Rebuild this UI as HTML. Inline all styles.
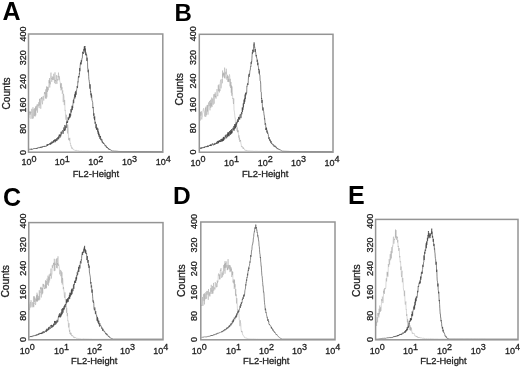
<!DOCTYPE html><html><head><meta charset="utf-8"><style>html,body{margin:0;padding:0;background:#fff;width:520px;height:368px;overflow:hidden}svg{display:block;will-change:transform}</style></head><body>
<svg width="520" height="368" viewBox="0 0 520 368" font-family='"Liberation Sans", sans-serif'>
<rect width="520" height="368" fill="#fff"/>
<path d="M28.50,111.17 L28.75,118.09 L29.00,116.50 L29.25,111.65 L29.50,112.53 L29.75,111.77 L30.00,114.84 L30.25,111.25 L30.50,113.40 L30.75,112.05 L31.00,118.91 L31.25,113.19 L31.50,112.88 L31.75,108.82 L32.00,112.83 L32.25,117.52 L32.50,118.69 L32.75,109.84 L33.00,107.19 L33.25,118.46 L33.50,115.93 L33.75,112.24 L34.00,108.97 L34.25,115.14 L34.50,116.09 L34.75,108.02 L35.00,116.60 L35.25,116.36 L35.50,106.58 L35.75,115.40 L36.00,107.16 L36.25,105.88 L36.50,110.32 L36.75,110.39 L37.00,104.47 L37.25,108.91 L37.50,112.68 L37.75,104.59 L38.00,104.11 L38.25,106.25 L38.50,102.28 L38.75,102.75 L39.00,107.06 L39.25,108.14 L39.50,99.00 L39.75,105.47 L40.00,99.41 L40.25,98.17 L40.50,101.62 L40.75,108.77 L41.00,103.51 L41.25,102.05 L41.50,96.97 L41.75,99.16 L42.00,97.36 L42.25,101.92 L42.50,104.26 L42.75,99.97 L43.00,96.81 L43.25,96.03 L43.50,98.28 L43.75,100.55 L44.00,97.79 L44.25,95.39 L44.50,91.96 L44.75,94.00 L45.00,92.29 L45.25,96.39 L45.50,98.33 L45.75,89.32 L46.00,98.93 L46.25,98.69 L46.50,86.46 L46.75,97.49 L47.00,96.49 L47.25,86.73 L47.50,91.95 L47.75,87.24 L48.00,86.93 L48.25,90.34 L48.50,88.32 L48.75,84.68 L49.00,80.08 L49.25,83.04 L49.50,78.09 L49.75,87.51 L50.00,81.45 L50.25,84.41 L50.50,78.88 L50.75,76.85 L51.00,72.60 L51.00,77.40 L51.25,78.53 L51.50,78.10 L51.75,81.85 L52.00,76.34 L52.25,77.40 L52.50,79.47 L52.75,79.92 L53.00,76.77 L53.25,80.03 L53.50,75.14 L53.75,73.75 L54.00,77.02 L54.25,79.96 L54.50,83.16 L54.75,82.35 L55.00,72.30 L55.00,79.78 L55.25,81.13 L55.50,79.98 L55.75,84.07 L56.00,82.47 L56.25,80.50 L56.50,75.14 L56.75,81.79 L57.00,83.85 L57.25,79.15 L57.50,79.20 L57.75,80.56 L58.00,75.74 L58.25,77.34 L58.50,72.60 L58.50,73.67 L58.75,75.16 L59.00,80.02 L59.25,76.28 L59.50,77.19 L59.75,81.33 L60.00,81.48 L60.25,82.53 L60.50,87.73 L60.75,83.29 L61.00,90.43 L61.25,83.83 L61.50,83.35 L61.75,89.61 L62.00,87.09 L62.25,93.71 L62.50,92.24 L62.75,90.34 L63.00,94.74 L63.25,102.14 L63.50,93.84 L63.75,95.51 L64.00,95.77 L64.25,105.14 L64.50,99.97 L64.75,100.02 L65.00,110.50 L65.25,109.95 L65.50,114.91 L65.75,118.62 L66.00,119.82 L66.25,114.73 L66.50,115.07 L66.75,128.14 L67.00,127.85 L67.25,124.49 L67.50,133.46 L67.75,124.51 L68.00,126.89 L68.25,128.24 L68.50,139.10 L68.75,140.01 L69.00,138.00 L69.25,140.72 L69.50,140.41 L69.75,137.80 L70.00,141.59 L70.25,143.36 L70.50,143.01 L70.75,146.17 L71.00,145.48 L71.25,145.71 L71.50,147.74 L71.75,148.57 L72.00,147.37 L72.25,147.93 L72.50,148.72 L72.75,148.42 L73.00,149.33 L73.25,149.50 L73.50,149.90 L73.75,149.84 L74.00,150.07 L74.25,149.98 L74.50,150.09 L74.75,150.36 L75.00,150.47 L75.25,150.49 L75.50,150.34 L75.75,150.73 L76.00,150.77 L76.25,150.36 L76.50,150.42 L76.75,150.46 L77.00,150.67 L77.25,150.97 L77.50,150.68 L77.75,150.93 L78.00,151.02 L78.25,150.98 L78.50,150.85 L78.75,150.89 L79.00,150.96 L79.25,151.15 L79.50,151.19 L79.75,151.09 L80.00,151.15 L80.25,151.10 L80.50,151.26 L80.75,151.28 L81.00,151.23 L81.25,151.16 L81.50,151.15 L81.75,151.24 L82.00,151.19 L82.25,151.34 L82.50,151.25 L82.75,151.25 L83.00,151.17 L83.25,151.24 L83.50,151.22 L83.75,151.30 L84.00,151.30 L84.25,151.35 L84.50,151.23 L84.75,151.34 L85.00,151.34 L85.25,151.26 L85.50,151.27 L85.75,151.38 L86.00,151.31 L86.25,151.38 L86.50,151.27 L86.75,151.39 L87.00,151.37 L87.25,151.30 L87.50,151.34 L87.75,151.34 L88.00,151.41 L88.25,151.37 L88.50,151.40 L88.75,151.33 L89.00,151.44 L89.25,151.38 L89.50,151.37 L89.75,151.42 L90.00,151.45 L90.25,151.37 L90.50,151.40 L90.75,151.43 L91.00,151.44 L91.25,151.46 L91.50,151.44 L91.75,151.47 L92.00,151.40 L92.25,151.43 L92.50,151.49 L92.75,151.41 L93.00,151.48 L93.25,151.49 L93.50,151.46 L93.75,151.48 L94.00,151.45 L94.25,151.45 L94.50,151.47 L94.75,151.51 L95.00,151.51 L95.25,151.52 L95.50,151.48 L95.75,151.51 L96.00,151.52 L96.25,151.48 L96.50,151.52 L96.75,151.49 L97.00,151.53 L97.25,151.50 L97.50,151.49 L97.75,151.52 L98.00,151.49 L98.25,151.52 L98.50,151.50 L98.75,151.52 L99.00,151.49 L99.25,151.53 L99.50,151.49 L99.75,151.53 L100.00,151.53 L100.25,151.50 L100.50,151.49 L100.75,151.53 L101.00,151.50 L101.25,151.52 L101.50,151.50 L101.75,151.50 L102.00,151.53 L102.25,151.53 L102.50,151.49 L102.75,151.49 L103.00,151.50 L103.25,151.53 L103.50,151.51 L103.75,151.51 L104.00,151.52 L104.25,151.54 L104.50,151.52 L104.75,151.52 L105.00,151.50 L105.25,151.51 L105.50,151.54 L105.75,151.53 L106.00,151.51 L106.25,151.50 L106.50,151.54 L106.75,151.53 L107.00,151.50 L107.25,151.54 L107.50,151.52 L107.75,151.54 L108.00,151.53 L108.25,151.54 L108.50,151.53 L108.75,151.52 L109.00,151.52 L109.25,151.53 L109.50,151.52 L109.75,151.51 L110.00,151.52 L110.25,151.50 L110.50,151.53 L110.75,151.53 L111.00,151.54 L111.25,151.52 L111.50,151.54 L111.75,151.53 L112.00,151.54 L112.25,151.54 L112.50,151.52 L112.75,151.54 L113.00,151.54 L113.25,151.53 L113.50,151.54 L113.75,151.53 L114.00,151.52 L114.25,151.52 L114.50,151.52 L114.75,151.51 L115.00,151.53 L115.25,151.54 L115.50,151.55 L115.75,151.53 L116.00,151.54 L116.25,151.51 L116.50,151.52 L116.75,151.54 L117.00,151.55 L117.25,151.53 L117.50,151.54 L117.75,151.55 L118.00,151.54 L118.25,151.53 L118.50,151.53 L118.75,151.54 L119.00,151.53 L119.25,151.53 L119.50,151.52 L119.75,151.52 L120.00,151.54 L120.25,151.55 L120.50,151.54 L120.75,151.52 L121.00,151.52 L121.25,151.54 L121.50,151.55 L121.75,151.53 L122.00,151.53 L122.25,151.54 L122.50,151.55 L122.75,151.54 L123.00,151.54 L123.25,151.54 L123.50,151.56 L123.75,151.53 L124.00,151.54 L124.25,151.55 L124.50,151.55 L124.75,151.55 L125.00,151.54 L125.25,151.55 L125.50,151.54 L125.75,151.55 L126.00,151.55 L126.25,151.54 L126.50,151.53 L126.75,151.53 L127.00,151.55 L127.25,151.54 L127.50,151.56 L127.75,151.54 L128.00,151.54 L128.25,151.55 L128.50,151.56 L128.75,151.55 L129.00,151.55 L129.25,151.55 L129.50,151.54 L129.75,151.55 L130.00,151.56 L130.25,151.55 L130.50,151.56 L130.75,151.56 L131.00,151.55 L131.25,151.54 L131.50,151.56 L131.75,151.54 L132.00,151.55 L132.25,151.55 L132.50,151.56 L132.75,151.55 L133.00,151.57 L133.25,151.57 L133.50,151.55 L133.75,151.56 L134.00,151.57 L134.25,151.57 L134.50,151.57 L134.75,151.56 L135.00,151.57 L135.25,151.56 L135.50,151.55 L135.75,151.56 L136.00,151.56 L136.25,151.56 L136.50,151.55 L136.75,151.55 L137.00,151.57 L137.25,151.57 L137.50,151.56 L137.75,151.56 L138.00,151.55 L138.25,151.57 L138.50,151.57 L138.75,151.56 L139.00,151.56 L139.25,151.56 L139.50,151.56 L139.75,151.57 L140.00,151.57 L140.25,151.56 L140.50,151.57 L140.75,151.57 L141.00,151.57 L141.25,151.56 L141.50,151.57 L141.75,151.57 L142.00,151.57 L142.25,151.57 L142.50,151.58 L142.75,151.57 L143.00,151.56 L143.25,151.57 L143.50,151.57 L143.75,151.58 L144.00,151.57 L144.25,151.58 L144.50,151.58 L144.75,151.57 L145.00,151.57 L145.25,151.58 L145.50,151.57 L145.75,151.58 L146.00,151.57 L146.25,151.58 L146.50,151.58 L146.75,151.58 L147.00,151.58 L147.25,151.57 L147.50,151.58 L147.75,151.57 L148.00,151.58 L148.25,151.58 L148.50,151.57 L148.75,151.58 L149.00,151.58 L149.25,151.58 L149.50,151.58 L149.75,151.58 L150.00,151.58 L150.25,151.58 L150.50,151.59 L150.75,151.59 L151.00,151.58 L151.25,151.58 L151.50,151.59 L151.75,151.58 L152.00,151.58 L152.25,151.58 L152.50,151.58 L152.75,151.58 L153.00,151.58 L153.25,151.58 L153.50,151.59 L153.75,151.59 L154.00,151.59 L154.25,151.58 L154.50,151.59 L154.75,151.59 L155.00,151.59 L155.25,151.59 L155.50,151.59 L155.75,151.59 L156.00,151.59 L156.25,151.59 L156.50,151.59 L156.75,151.59 L157.00,151.59 L157.25,151.59 L157.50,151.59 L157.75,151.59 L158.00,151.59 L158.25,151.59 L158.50,151.59 L158.75,151.59 L159.00,151.59 L159.25,151.60 L159.50,151.59 L159.75,151.60 L160.00,151.60 L160.25,151.60 L160.50,151.60 L160.75,151.60 L161.00,151.60 L161.25,151.60 L161.50,151.60 L161.75,151.60 L162.00,151.60 L162.25,151.60 L162.50,151.60 L162.75,151.60" fill="none" stroke="#a0a0a0" stroke-width="0.42" stroke-linejoin="round"/>
<path d="M28.50,149.70 L28.70,149.55 L28.90,149.41 L29.10,149.42 L29.30,149.31 L29.50,149.44 L29.70,149.18 L29.90,149.17 L30.10,149.32 L30.30,149.16 L30.50,149.04 L30.70,149.49 L30.90,149.35 L31.10,149.50 L31.30,148.89 L31.50,149.49 L31.70,148.78 L31.90,148.97 L32.10,149.19 L32.30,149.18 L32.50,148.94 L32.70,149.30 L32.90,149.30 L33.10,149.08 L33.30,148.77 L33.50,148.70 L33.70,148.97 L33.90,148.63 L34.10,148.55 L34.30,148.96 L34.50,148.54 L34.70,148.58 L34.90,148.54 L35.10,148.49 L35.30,148.56 L35.50,148.22 L35.70,148.71 L35.90,148.92 L36.10,148.56 L36.30,148.07 L36.50,148.73 L36.70,148.32 L36.90,148.37 L37.10,148.68 L37.30,147.68 L37.50,147.81 L37.70,148.31 L37.90,148.25 L38.10,147.88 L38.30,147.79 L38.50,147.68 L38.70,147.53 L38.90,147.21 L39.10,147.19 L39.30,148.09 L39.50,147.99 L39.70,147.73 L39.90,147.52 L40.10,147.07 L40.30,147.71 L40.50,147.29 L40.70,146.80 L40.90,147.76 L41.10,147.89 L41.30,146.96 L41.50,146.77 L41.70,147.20 L41.90,147.21 L42.10,147.53 L42.30,146.74 L42.50,147.14 L42.70,146.28 L42.90,146.63 L43.10,146.54 L43.30,146.54 L43.50,146.38 L43.70,146.81 L43.90,146.51 L44.10,146.01 L44.30,146.44 L44.50,145.95 L44.70,146.60 L44.90,146.74 L45.10,145.92 L45.30,146.13 L45.50,146.33 L45.70,146.28 L45.90,146.22 L46.10,146.01 L46.30,146.38 L46.50,144.87 L46.70,144.69 L46.90,144.76 L47.10,144.98 L47.30,145.35 L47.50,146.00 L47.70,144.02 L47.90,145.34 L48.10,144.05 L48.30,144.30 L48.50,144.37 L48.70,144.36 L48.90,144.29 L49.10,144.88 L49.30,144.06 L49.50,143.79 L49.70,143.16 L49.90,143.60 L50.10,144.56 L50.30,143.68 L50.50,144.34 L50.70,142.69 L50.90,144.24 L51.10,142.73 L51.30,143.65 L51.50,142.88 L51.70,142.68 L51.90,141.57 L52.10,143.48 L52.30,141.89 L52.50,142.60 L52.70,142.15 L52.90,142.41 L53.10,141.38 L53.30,141.91 L53.50,140.40 L53.70,142.73 L53.90,142.15 L54.10,140.35 L54.30,140.59 L54.50,139.60 L54.70,141.24 L54.90,139.92 L55.10,141.10 L55.30,142.18 L55.50,139.42 L55.70,139.17 L55.90,141.20 L56.10,139.97 L56.30,139.76 L56.50,140.58 L56.70,138.24 L56.90,138.91 L57.10,140.58 L57.30,139.19 L57.50,137.46 L57.70,138.06 L57.90,139.24 L58.10,138.92 L58.30,137.87 L58.50,136.56 L58.70,139.25 L58.90,135.78 L59.10,134.83 L59.30,134.59 L59.50,135.99 L59.70,134.90 L59.90,137.78 L60.10,134.59 L60.30,134.99 L60.50,134.74 L60.70,136.45 L60.90,135.75 L61.10,131.80 L61.30,134.36 L61.50,134.03 L61.70,133.50 L61.90,131.79 L62.10,131.08 L62.30,131.11 L62.50,130.36 L62.70,131.22 L62.90,132.91 L63.10,133.87 L63.30,131.85 L63.50,132.02 L63.70,128.60 L63.90,127.45 L64.10,130.01 L64.30,130.68 L64.50,129.30 L64.70,130.81 L64.90,124.98 L65.10,130.29 L65.30,129.33 L65.50,129.25 L65.70,126.22 L65.90,126.41 L66.10,127.77 L66.30,127.48 L66.50,122.39 L66.70,121.75 L66.90,122.96 L67.10,120.75 L67.30,121.01 L67.50,123.06 L67.70,121.78 L67.90,119.74 L68.10,117.33 L68.30,117.69 L68.50,120.01 L68.70,118.23 L68.90,119.14 L69.10,116.76 L69.30,117.93 L69.50,113.64 L69.70,117.62 L69.90,113.92 L70.10,117.31 L70.30,114.11 L70.50,113.75 L70.70,115.63 L70.90,109.32 L71.10,109.24 L71.30,112.46 L71.50,108.98 L71.70,109.06 L71.90,107.15 L72.10,105.73 L72.30,110.10 L72.50,106.30 L72.70,107.95 L72.90,104.23 L73.10,103.18 L73.30,100.06 L73.50,99.67 L73.70,103.17 L73.90,98.89 L74.10,99.04 L74.30,97.23 L74.50,96.65 L74.70,94.34 L74.90,98.41 L75.10,96.04 L75.30,92.29 L75.50,96.97 L75.70,91.43 L75.90,90.87 L76.10,94.77 L76.30,91.47 L76.50,91.25 L76.70,89.54 L76.90,88.64 L77.10,86.02 L77.30,86.54 L77.50,88.02 L77.70,84.72 L77.90,81.63 L78.10,82.21 L78.30,77.88 L78.50,76.08 L78.70,77.62 L78.90,76.60 L79.10,77.12 L79.30,73.45 L79.50,74.25 L79.70,68.10 L79.90,71.22 L80.10,66.82 L80.30,64.40 L80.50,63.09 L80.70,64.36 L80.90,61.89 L81.10,64.30 L81.30,60.17 L81.50,61.83 L81.70,61.11 L81.90,58.57 L82.10,58.55 L82.30,58.09 L82.50,54.96 L82.70,51.75 L82.90,53.21 L83.10,52.31 L83.30,53.93 L83.50,53.69 L83.70,52.67 L83.90,48.93 L84.10,51.25 L84.30,46.54 L84.50,49.97 L84.70,46.16 L84.90,46.90 L85.00,46.30 L85.10,52.54 L85.30,48.47 L85.50,50.67 L85.70,54.90 L85.90,52.52 L86.10,55.52 L86.30,54.31 L86.50,54.81 L86.70,54.74 L86.90,60.97 L87.10,57.66 L87.30,60.15 L87.50,62.24 L87.70,68.36 L87.90,68.24 L88.10,72.27 L88.30,69.69 L88.50,71.95 L88.70,76.37 L88.90,79.55 L89.10,79.86 L89.30,81.74 L89.50,83.18 L89.70,87.13 L89.90,88.68 L90.10,84.27 L90.30,86.17 L90.50,92.15 L90.70,91.39 L90.90,95.23 L91.10,93.25 L91.30,97.60 L91.50,94.60 L91.70,95.15 L91.90,100.01 L92.10,100.43 L92.30,101.07 L92.50,102.04 L92.70,102.47 L92.90,108.11 L93.10,106.97 L93.30,107.86 L93.50,112.00 L93.70,115.71 L93.90,113.32 L94.10,118.37 L94.30,117.27 L94.50,120.14 L94.70,116.35 L94.90,120.80 L95.10,123.75 L95.30,121.85 L95.50,123.28 L95.70,123.56 L95.90,128.18 L96.10,126.98 L96.30,124.20 L96.50,129.80 L96.70,127.88 L96.90,129.12 L97.10,127.58 L97.30,127.85 L97.50,130.14 L97.70,131.73 L97.90,128.60 L98.10,133.76 L98.30,131.29 L98.50,135.16 L98.70,132.45 L98.90,133.12 L99.10,136.83 L99.30,134.68 L99.50,134.33 L99.70,135.70 L99.90,138.85 L100.10,136.21 L100.30,137.29 L100.50,136.16 L100.70,140.14 L100.90,139.41 L101.10,138.71 L101.30,139.10 L101.50,139.33 L101.70,140.56 L101.90,139.47 L102.10,142.24 L102.30,141.34 L102.50,142.59 L102.70,142.02 L102.90,142.71 L103.10,143.26 L103.30,143.62 L103.50,142.67 L103.70,143.80 L103.90,143.51 L104.10,143.51 L104.30,144.24 L104.50,144.36 L104.70,144.24 L104.90,145.12 L105.10,146.05 L105.30,145.68 L105.50,146.19 L105.70,145.59 L105.90,145.43 L106.10,146.00 L106.30,147.13 L106.50,146.63 L106.70,147.63 L106.90,147.28 L107.10,147.87 L107.30,147.14 L107.50,147.48 L107.70,147.96 L107.90,148.38 L108.10,148.75 L108.30,148.37 L108.50,149.09 L108.70,148.56 L108.90,149.48 L109.10,149.48 L109.30,149.16 L109.50,149.73 L109.70,149.29 L109.90,149.42 L110.10,149.79 L110.30,149.69 L110.50,149.73 L110.70,150.03 L110.90,150.01 L111.10,150.38 L111.30,150.46 L111.50,150.44 L111.70,150.63 L111.90,150.49 L112.10,150.67 L112.30,150.84 L112.50,150.94 L112.70,150.94 L112.90,151.08 L113.10,150.98 L113.30,151.04 L113.50,151.00 L113.70,151.01 L113.90,151.01 L114.10,151.05 L114.30,151.12 L114.50,151.18 L114.70,151.10 L114.90,151.08 L115.10,151.15 L115.30,151.15 L115.50,151.16 L115.70,151.16 L115.90,151.18 L116.10,151.28 L116.30,151.23 L116.50,151.23 L116.70,151.29 L116.90,151.25 L117.10,151.34 L117.30,151.33 L117.50,151.31 L117.70,151.31 L117.90,151.32 L118.10,151.37 L118.30,151.41 L118.50,151.39 L118.70,151.42 L118.90,151.44 L119.10,151.43 L119.30,151.45 L119.50,151.47 L119.70,151.49 L119.90,151.50 L120.10,151.50 L120.30,151.50 L120.50,151.50 L120.70,151.51 L120.90,151.49 L121.10,151.51 L121.30,151.50 L121.50,151.50 L121.70,151.50 L121.90,151.49 L122.10,151.51 L122.30,151.51 L122.50,151.50 L122.70,151.52 L122.90,151.51 L123.10,151.51 L123.30,151.51 L123.50,151.50 L123.70,151.50 L123.90,151.51 L124.10,151.50 L124.30,151.52 L124.50,151.51 L124.70,151.51 L124.90,151.50 L125.10,151.51 L125.30,151.51 L125.50,151.50 L125.70,151.52 L125.90,151.53 L126.10,151.51 L126.30,151.50 L126.50,151.52 L126.70,151.51 L126.90,151.52 L127.10,151.51 L127.30,151.51 L127.50,151.52 L127.70,151.53 L127.90,151.52 L128.10,151.51 L128.30,151.51 L128.50,151.53 L128.70,151.51 L128.90,151.53 L129.10,151.52 L129.30,151.53 L129.50,151.52 L129.70,151.53 L129.90,151.52 L130.10,151.52 L130.30,151.51 L130.50,151.53 L130.70,151.53 L130.90,151.52 L131.10,151.52 L131.30,151.53 L131.50,151.53 L131.70,151.53 L131.90,151.53 L132.10,151.53 L132.30,151.52 L132.50,151.54 L132.70,151.53 L132.90,151.54 L133.10,151.53 L133.30,151.54 L133.50,151.53 L133.70,151.54 L133.90,151.54 L134.10,151.53 L134.30,151.53 L134.50,151.53 L134.70,151.54 L134.90,151.54 L135.10,151.53 L135.30,151.53 L135.50,151.54 L135.70,151.53 L135.90,151.54 L136.10,151.53 L136.30,151.53 L136.50,151.54 L136.70,151.53 L136.90,151.54 L137.10,151.54 L137.30,151.54 L137.50,151.54 L137.70,151.54 L137.90,151.54 L138.10,151.54 L138.30,151.53 L138.50,151.54 L138.70,151.54 L138.90,151.54 L139.10,151.55 L139.30,151.55 L139.50,151.55 L139.70,151.55 L139.90,151.54 L140.10,151.55 L140.30,151.55 L140.50,151.54 L140.70,151.54 L140.90,151.55 L141.10,151.54 L141.30,151.56 L141.50,151.54 L141.70,151.55 L141.90,151.55 L142.10,151.55 L142.30,151.55 L142.50,151.55 L142.70,151.56 L142.90,151.55 L143.10,151.55 L143.30,151.56 L143.50,151.56 L143.70,151.56 L143.90,151.56 L144.10,151.56 L144.30,151.56 L144.50,151.56 L144.70,151.56 L144.90,151.56 L145.10,151.56 L145.30,151.56 L145.50,151.55 L145.70,151.57 L145.90,151.56 L146.10,151.56 L146.30,151.56 L146.50,151.56 L146.70,151.56 L146.90,151.56 L147.10,151.56 L147.30,151.57 L147.50,151.57 L147.70,151.57 L147.90,151.57 L148.10,151.57 L148.30,151.57 L148.50,151.56 L148.70,151.56 L148.90,151.56 L149.10,151.57 L149.30,151.57 L149.50,151.57 L149.70,151.57 L149.90,151.57 L150.10,151.57 L150.30,151.57 L150.50,151.57 L150.70,151.57 L150.90,151.57 L151.10,151.57 L151.30,151.57 L151.50,151.58 L151.70,151.57 L151.90,151.58 L152.10,151.58 L152.30,151.58 L152.50,151.57 L152.70,151.58 L152.90,151.57 L153.10,151.58 L153.30,151.58 L153.50,151.58 L153.70,151.58 L153.90,151.58 L154.10,151.58 L154.30,151.58 L154.50,151.58 L154.70,151.58 L154.90,151.58 L155.10,151.58 L155.30,151.58 L155.50,151.58 L155.70,151.58 L155.90,151.59 L156.10,151.59 L156.30,151.59 L156.50,151.58 L156.70,151.59 L156.90,151.59 L157.10,151.59 L157.30,151.59 L157.50,151.59 L157.70,151.59 L157.90,151.59 L158.10,151.59 L158.30,151.59 L158.50,151.59 L158.70,151.59 L158.90,151.59 L159.10,151.59 L159.30,151.59 L159.50,151.59 L159.70,151.59 L159.90,151.59 L160.10,151.59 L160.30,151.59 L160.50,151.59 L160.70,151.60 L160.90,151.60 L161.10,151.60 L161.30,151.60 L161.50,151.60 L161.70,151.60 L161.90,151.60 L162.10,151.60 L162.30,151.60 L162.50,151.60 L162.70,151.60" fill="none" stroke="#424242" stroke-width="0.65" stroke-linejoin="round"/>
<rect x="28.50" y="34.00" width="134.30" height="118.20" fill="none" stroke="#949494" stroke-width="1.5"/>
<text x="2.4" y="19.8" font-size="25" font-weight="bold" fill="#000">A</text>
<text transform="translate(26.00,152.50) rotate(-90)" font-size="9.0" text-anchor="middle" fill="#1e1e1e" stroke="#1e1e1e" stroke-width="0.3">0</text>
<text transform="translate(26.00,128.80) rotate(-90)" font-size="9.0" text-anchor="middle" fill="#1e1e1e" stroke="#1e1e1e" stroke-width="0.3">80</text>
<text transform="translate(26.00,105.10) rotate(-90)" font-size="9.0" text-anchor="middle" fill="#1e1e1e" stroke="#1e1e1e" stroke-width="0.3">160</text>
<text transform="translate(26.00,81.40) rotate(-90)" font-size="9.0" text-anchor="middle" fill="#1e1e1e" stroke="#1e1e1e" stroke-width="0.3">240</text>
<text transform="translate(26.00,57.70) rotate(-90)" font-size="9.0" text-anchor="middle" fill="#1e1e1e" stroke="#1e1e1e" stroke-width="0.3">320</text>
<text transform="translate(26.00,34.00) rotate(-90)" font-size="9.0" text-anchor="middle" fill="#1e1e1e" stroke="#1e1e1e" stroke-width="0.3">400</text>
<text transform="translate(9.60,93.50) rotate(-90)" font-size="10.1" text-anchor="middle" fill="#1e1e1e" stroke="#1e1e1e" stroke-width="0.3">Counts</text>
<text x="29.00" y="165.40" font-size="9.0" text-anchor="middle" fill="#1e1e1e" stroke="#1e1e1e" stroke-width="0.3">10<tspan dy="-3.4">0</tspan></text>
<text x="62.30" y="165.40" font-size="9.0" text-anchor="middle" fill="#1e1e1e" stroke="#1e1e1e" stroke-width="0.3">10<tspan dy="-3.4">1</tspan></text>
<text x="95.85" y="165.40" font-size="9.0" text-anchor="middle" fill="#1e1e1e" stroke="#1e1e1e" stroke-width="0.3">10<tspan dy="-3.4">2</tspan></text>
<text x="129.60" y="165.40" font-size="9.0" text-anchor="middle" fill="#1e1e1e" stroke="#1e1e1e" stroke-width="0.3">10<tspan dy="-3.4">3</tspan></text>
<text x="163.20" y="165.40" font-size="9.0" text-anchor="middle" fill="#1e1e1e" stroke="#1e1e1e" stroke-width="0.3">10<tspan dy="-3.4">4</tspan></text>
<text x="95.85" y="177.00" font-size="9.4" text-anchor="middle" fill="#1e1e1e" stroke="#1e1e1e" stroke-width="0.3">FL2-Height</text>
<path d="M199.50,116.85 L199.75,111.44 L200.00,112.16 L200.25,120.55 L200.50,111.89 L200.75,115.67 L201.00,115.38 L201.25,114.67 L201.50,111.27 L201.75,119.45 L202.00,116.92 L202.25,116.85 L202.50,113.18 L202.75,112.73 L203.00,111.12 L203.25,109.63 L203.50,108.39 L203.75,108.22 L204.00,111.27 L204.25,111.26 L204.50,114.92 L204.75,116.49 L205.00,111.22 L205.25,111.07 L205.50,107.69 L205.75,116.95 L206.00,106.53 L206.25,114.89 L206.50,115.30 L206.75,109.23 L207.00,105.20 L207.25,104.88 L207.50,111.51 L207.75,105.14 L208.00,114.66 L208.25,107.54 L208.50,102.46 L208.75,104.16 L209.00,106.15 L209.25,105.76 L209.50,100.91 L209.75,108.09 L210.00,110.37 L210.25,105.14 L210.50,99.77 L210.75,107.85 L211.00,103.06 L211.25,106.18 L211.50,101.09 L211.75,97.54 L212.00,107.06 L212.25,99.83 L212.50,98.57 L212.75,102.14 L213.00,103.22 L213.25,104.72 L213.50,98.38 L213.75,94.26 L214.00,101.08 L214.25,103.67 L214.50,98.00 L214.75,93.88 L215.00,96.94 L215.25,92.33 L215.50,97.39 L215.75,95.91 L216.00,98.70 L216.25,97.24 L216.50,96.48 L216.75,91.10 L217.00,89.09 L217.25,91.61 L217.50,96.07 L217.75,95.98 L218.00,96.19 L218.25,85.25 L218.50,91.26 L218.75,85.38 L219.00,84.36 L219.25,87.23 L219.50,92.45 L219.75,89.19 L220.00,90.91 L220.25,81.89 L220.50,81.15 L220.75,79.60 L221.00,88.44 L221.25,86.93 L221.50,83.37 L221.75,83.33 L222.00,78.91 L222.25,83.27 L222.50,78.05 L222.60,70.50 L222.75,77.64 L223.00,73.60 L223.25,76.35 L223.50,72.58 L223.75,74.72 L224.00,73.43 L224.25,75.22 L224.50,77.90 L224.60,67.60 L224.75,74.85 L225.00,78.60 L225.25,77.39 L225.50,76.08 L225.75,71.76 L226.00,74.38 L226.25,68.71 L226.50,70.72 L226.75,79.68 L227.00,76.59 L227.25,77.93 L227.50,74.81 L227.75,81.90 L228.00,78.50 L228.25,76.27 L228.50,81.66 L228.75,78.98 L229.00,82.17 L229.25,74.63 L229.50,74.39 L229.75,76.13 L230.00,86.34 L230.25,78.79 L230.50,87.93 L230.75,86.67 L231.00,81.98 L231.25,92.68 L231.50,85.44 L231.75,95.84 L232.00,86.43 L232.25,93.81 L232.50,93.49 L232.75,98.88 L233.00,97.91 L233.25,101.87 L233.50,104.03 L233.75,98.51 L234.00,109.61 L234.25,110.96 L234.50,112.44 L234.75,115.50 L235.00,118.29 L235.25,118.08 L235.50,123.72 L235.75,122.93 L236.00,127.12 L236.25,124.72 L236.50,122.55 L236.75,124.70 L237.00,130.72 L237.25,127.44 L237.50,132.29 L237.75,129.90 L238.00,132.01 L238.25,130.54 L238.50,135.40 L238.75,137.67 L239.00,135.22 L239.25,139.75 L239.50,137.68 L239.75,141.92 L240.00,140.22 L240.25,141.19 L240.50,139.93 L240.75,142.38 L241.00,143.79 L241.25,144.74 L241.50,147.14 L241.75,146.53 L242.00,146.07 L242.25,146.26 L242.50,147.44 L242.75,148.07 L243.00,147.63 L243.25,149.01 L243.50,147.59 L243.75,148.33 L244.00,148.69 L244.25,149.14 L244.50,149.27 L244.75,150.22 L245.00,150.30 L245.25,150.31 L245.50,150.07 L245.75,150.03 L246.00,150.59 L246.25,150.15 L246.50,150.23 L246.75,150.75 L247.00,150.88 L247.25,150.59 L247.50,150.66 L247.75,150.92 L248.00,150.99 L248.25,150.90 L248.50,150.88 L248.75,150.91 L249.00,151.13 L249.25,150.90 L249.50,150.97 L249.75,150.79 L250.00,151.04 L250.25,150.99 L250.50,151.07 L250.75,150.90 L251.00,151.03 L251.25,150.96 L251.50,151.16 L251.75,150.97 L252.00,151.05 L252.25,151.10 L252.50,151.10 L252.75,151.06 L253.00,151.29 L253.25,151.27 L253.50,151.20 L253.75,151.30 L254.00,151.25 L254.25,151.28 L254.50,151.31 L254.75,151.35 L255.00,151.37 L255.25,151.22 L255.50,151.29 L255.75,151.25 L256.00,151.32 L256.25,151.27 L256.50,151.26 L256.75,151.24 L257.00,151.38 L257.25,151.28 L257.50,151.38 L257.75,151.25 L258.00,151.28 L258.25,151.27 L258.50,151.38 L258.75,151.36 L259.00,151.27 L259.25,151.26 L259.50,151.39 L259.75,151.30 L260.00,151.40 L260.25,151.32 L260.50,151.39 L260.75,151.29 L261.00,151.27 L261.25,151.30 L261.50,151.25 L261.75,151.39 L262.00,151.33 L262.25,151.30 L262.50,151.38 L262.75,151.41 L263.00,151.28 L263.25,151.39 L263.50,151.39 L263.75,151.29 L264.00,151.38 L264.25,151.41 L264.50,151.40 L264.75,151.26 L265.00,151.29 L265.25,151.40 L265.50,151.31 L265.75,151.40 L266.00,151.40 L266.25,151.37 L266.50,151.32 L266.75,151.30 L267.00,151.30 L267.25,151.28 L267.50,151.35 L267.75,151.41 L268.00,151.30 L268.25,151.34 L268.50,151.41 L268.75,151.42 L269.00,151.40 L269.25,151.35 L269.50,151.42 L269.75,151.30 L270.00,151.35 L270.25,151.42 L270.50,151.30 L270.75,151.42 L271.00,151.31 L271.25,151.41 L271.50,151.41 L271.75,151.32 L272.00,151.33 L272.25,151.31 L272.50,151.32 L272.75,151.40 L273.00,151.33 L273.25,151.38 L273.50,151.35 L273.75,151.34 L274.00,151.38 L274.25,151.31 L274.50,151.33 L274.75,151.42 L275.00,151.36 L275.25,151.33 L275.50,151.41 L275.75,151.41 L276.00,151.44 L276.25,151.37 L276.50,151.38 L276.75,151.33 L277.00,151.41 L277.25,151.41 L277.50,151.40 L277.75,151.45 L278.00,151.34 L278.25,151.45 L278.50,151.37 L278.75,151.41 L279.00,151.42 L279.25,151.44 L279.50,151.40 L279.75,151.34 L280.00,151.41 L280.25,151.37 L280.50,151.38 L280.75,151.42 L281.00,151.39 L281.25,151.40 L281.50,151.41 L281.75,151.35 L282.00,151.35 L282.25,151.40 L282.50,151.42 L282.75,151.43 L283.00,151.36 L283.25,151.36 L283.50,151.42 L283.75,151.42 L284.00,151.46 L284.25,151.38 L284.50,151.44 L284.75,151.42 L285.00,151.45 L285.25,151.43 L285.50,151.45 L285.75,151.46 L286.00,151.44 L286.25,151.43 L286.50,151.45 L286.75,151.46 L287.00,151.41 L287.25,151.39 L287.50,151.44 L287.75,151.46 L288.00,151.46 L288.25,151.39 L288.50,151.42 L288.75,151.47 L289.00,151.46 L289.25,151.40 L289.50,151.41 L289.75,151.45 L290.00,151.39 L290.25,151.44 L290.50,151.44 L290.75,151.42 L291.00,151.44 L291.25,151.39 L291.50,151.47 L291.75,151.42 L292.00,151.40 L292.25,151.48 L292.50,151.41 L292.75,151.46 L293.00,151.41 L293.25,151.43 L293.50,151.48 L293.75,151.42 L294.00,151.47 L294.25,151.45 L294.50,151.48 L294.75,151.42 L295.00,151.43 L295.25,151.48 L295.50,151.49 L295.75,151.47 L296.00,151.47 L296.25,151.49 L296.50,151.48 L296.75,151.44 L297.00,151.46 L297.25,151.46 L297.50,151.47 L297.75,151.46 L298.00,151.44 L298.25,151.48 L298.50,151.48 L298.75,151.51 L299.00,151.49 L299.25,151.45 L299.50,151.46 L299.75,151.47 L300.00,151.50 L300.25,151.49 L300.50,151.47 L300.75,151.51 L301.00,151.48 L301.25,151.48 L301.50,151.50 L301.75,151.50 L302.00,151.46 L302.25,151.49 L302.50,151.52 L302.75,151.46 L303.00,151.46 L303.25,151.49 L303.50,151.51 L303.75,151.51 L304.00,151.49 L304.25,151.52 L304.50,151.50 L304.75,151.52 L305.00,151.51 L305.25,151.46 L305.50,151.49 L305.75,151.48 L306.00,151.50 L306.25,151.51 L306.50,151.49 L306.75,151.49 L307.00,151.51 L307.25,151.49 L307.50,151.51 L307.75,151.52 L308.00,151.52 L308.25,151.51 L308.50,151.52 L308.75,151.50 L309.00,151.53 L309.25,151.51 L309.50,151.49 L309.75,151.49 L310.00,151.50 L310.25,151.50 L310.50,151.52 L310.75,151.54 L311.00,151.53 L311.25,151.49 L311.50,151.52 L311.75,151.51 L312.00,151.54 L312.25,151.54 L312.50,151.54 L312.75,151.53 L313.00,151.54 L313.25,151.55 L313.50,151.51 L313.75,151.53 L314.00,151.54 L314.25,151.53 L314.50,151.55 L314.75,151.52 L315.00,151.53 L315.25,151.52 L315.50,151.54 L315.75,151.54 L316.00,151.53 L316.25,151.53 L316.50,151.54 L316.75,151.52 L317.00,151.55 L317.25,151.54 L317.50,151.55 L317.75,151.52 L318.00,151.53 L318.25,151.53 L318.50,151.53 L318.75,151.56 L319.00,151.53 L319.25,151.54 L319.50,151.56 L319.75,151.54 L320.00,151.55 L320.25,151.56 L320.50,151.54 L320.75,151.55 L321.00,151.56 L321.25,151.55 L321.50,151.55 L321.75,151.55 L322.00,151.56 L322.25,151.57 L322.50,151.55 L322.75,151.56 L323.00,151.56 L323.25,151.56 L323.50,151.55 L323.75,151.57 L324.00,151.57 L324.25,151.56 L324.50,151.56 L324.75,151.57 L325.00,151.58 L325.25,151.57 L325.50,151.57 L325.75,151.56 L326.00,151.57 L326.25,151.58 L326.50,151.57 L326.75,151.57 L327.00,151.57 L327.25,151.58 L327.50,151.58 L327.75,151.58 L328.00,151.58 L328.25,151.58 L328.50,151.58 L328.75,151.59 L329.00,151.59 L329.25,151.59 L329.50,151.59 L329.75,151.59 L330.00,151.59 L330.25,151.59 L330.50,151.59 L330.75,151.59 L331.00,151.59 L331.25,151.59 L331.50,151.60 L331.75,151.59 L332.00,151.60 L332.25,151.60 L332.50,151.60 L332.75,151.60" fill="none" stroke="#a0a0a0" stroke-width="0.42" stroke-linejoin="round"/>
<path d="M199.50,148.20 L199.70,148.33 L199.90,148.57 L200.10,148.15 L200.30,148.64 L200.50,148.58 L200.70,147.61 L200.90,147.58 L201.10,148.59 L201.30,147.97 L201.50,147.61 L201.70,148.47 L201.90,147.57 L202.10,147.82 L202.30,147.89 L202.50,148.01 L202.70,147.39 L202.90,147.84 L203.10,147.77 L203.30,147.88 L203.50,147.29 L203.70,147.17 L203.90,147.65 L204.10,146.93 L204.30,147.26 L204.50,147.69 L204.70,146.63 L204.90,147.47 L205.10,147.15 L205.30,146.93 L205.50,146.33 L205.70,146.68 L205.90,146.66 L206.10,146.85 L206.30,147.04 L206.50,146.26 L206.70,146.70 L206.90,146.03 L207.10,146.27 L207.30,145.82 L207.50,145.97 L207.70,147.07 L207.90,145.52 L208.10,145.72 L208.30,146.76 L208.50,146.30 L208.70,146.00 L208.90,145.94 L209.10,145.31 L209.30,145.15 L209.50,146.02 L209.70,145.52 L209.90,145.78 L210.10,145.34 L210.30,144.78 L210.50,146.02 L210.70,144.67 L210.90,145.80 L211.10,144.45 L211.30,145.57 L211.50,145.74 L211.70,145.46 L211.90,144.76 L212.10,144.82 L212.30,143.67 L212.50,144.21 L212.70,143.69 L212.90,143.70 L213.10,144.72 L213.30,144.84 L213.50,145.25 L213.70,144.44 L213.90,144.59 L214.10,143.83 L214.30,144.28 L214.50,144.77 L214.70,143.25 L214.90,142.91 L215.10,144.51 L215.30,144.20 L215.50,143.65 L215.70,143.78 L215.90,143.17 L216.10,143.63 L216.30,143.08 L216.50,143.88 L216.70,141.89 L216.90,142.72 L217.10,143.05 L217.30,143.66 L217.50,141.27 L217.70,141.06 L217.90,143.01 L218.10,143.32 L218.30,140.69 L218.50,143.03 L218.70,141.03 L218.90,142.10 L219.10,141.97 L219.30,140.66 L219.50,140.50 L219.70,142.06 L219.90,140.17 L220.10,142.05 L220.30,141.78 L220.50,141.24 L220.70,141.96 L220.90,139.20 L221.10,140.47 L221.30,141.56 L221.50,139.11 L221.70,138.83 L221.90,140.51 L222.10,141.38 L222.30,138.94 L222.50,141.17 L222.70,139.72 L222.90,141.01 L223.10,137.71 L223.30,140.64 L223.50,136.92 L223.70,140.27 L223.90,139.38 L224.10,137.99 L224.30,137.31 L224.50,137.67 L224.70,139.35 L224.90,138.74 L225.10,135.75 L225.30,135.53 L225.50,136.20 L225.70,137.17 L225.90,134.73 L226.10,137.73 L226.30,138.22 L226.50,137.78 L226.70,138.14 L226.90,134.71 L227.10,135.50 L227.30,133.90 L227.50,133.95 L227.70,137.09 L227.90,132.31 L228.10,135.55 L228.30,132.91 L228.50,135.76 L228.70,132.31 L228.90,134.41 L229.10,136.18 L229.30,132.85 L229.50,131.09 L229.70,132.89 L229.90,132.90 L230.10,135.00 L230.30,133.86 L230.50,130.20 L230.70,134.26 L230.90,132.04 L231.10,132.91 L231.30,130.71 L231.50,133.56 L231.70,129.00 L231.90,133.30 L232.10,132.99 L232.30,131.55 L232.50,131.62 L232.70,130.59 L232.90,127.87 L233.10,128.09 L233.30,130.15 L233.50,129.55 L233.70,128.12 L233.90,125.97 L234.10,130.68 L234.30,128.13 L234.50,128.65 L234.70,124.03 L234.90,127.12 L235.10,128.60 L235.30,125.36 L235.50,128.02 L235.70,123.85 L235.90,125.57 L236.10,126.66 L236.30,122.29 L236.50,124.58 L236.70,124.00 L236.90,123.21 L237.10,123.20 L237.30,120.59 L237.50,122.37 L237.70,119.37 L237.90,119.14 L238.10,118.93 L238.30,121.94 L238.50,117.46 L238.70,118.64 L238.90,116.86 L239.10,119.36 L239.30,117.41 L239.50,118.06 L239.70,119.52 L239.90,115.10 L240.10,114.48 L240.30,114.47 L240.50,114.18 L240.70,114.66 L240.90,118.18 L241.10,116.57 L241.30,113.62 L241.50,112.19 L241.70,114.22 L241.90,114.35 L242.10,111.39 L242.30,107.42 L242.50,111.97 L242.70,107.81 L242.90,109.82 L243.10,106.39 L243.30,103.35 L243.50,107.42 L243.70,102.40 L243.90,101.23 L244.10,99.59 L244.30,103.85 L244.50,98.57 L244.70,101.89 L244.90,100.96 L245.10,94.56 L245.30,99.11 L245.50,92.96 L245.70,93.08 L245.90,95.26 L246.10,92.36 L246.30,92.68 L246.50,93.56 L246.70,92.45 L246.90,85.94 L247.10,86.28 L247.30,85.47 L247.50,83.38 L247.70,84.79 L247.90,84.48 L248.10,84.82 L248.30,80.23 L248.50,77.00 L248.70,76.83 L248.90,74.40 L249.10,76.98 L249.30,73.70 L249.50,74.73 L249.70,73.27 L249.90,70.54 L250.10,70.59 L250.30,70.01 L250.50,67.21 L250.70,66.24 L250.90,66.61 L251.10,62.23 L251.30,63.78 L251.50,61.61 L251.70,62.06 L251.90,58.67 L252.10,55.31 L252.30,52.37 L252.50,53.69 L252.70,49.73 L252.90,51.05 L253.10,50.44 L253.30,52.37 L253.50,48.96 L253.70,46.09 L253.90,44.59 L254.10,45.43 L254.10,42.40 L254.30,47.31 L254.50,46.84 L254.70,46.70 L254.90,48.18 L255.10,52.08 L255.30,49.07 L255.50,51.56 L255.70,52.26 L255.90,54.47 L256.10,56.41 L256.30,54.94 L256.50,56.68 L256.70,58.12 L256.90,58.23 L257.10,61.78 L257.30,60.51 L257.50,59.82 L257.70,65.13 L257.90,62.72 L258.10,65.49 L258.30,66.31 L258.50,67.56 L258.70,70.08 L258.90,68.99 L259.10,73.52 L259.30,70.43 L259.50,74.01 L259.70,75.10 L259.90,75.17 L260.10,80.52 L260.30,81.03 L260.50,81.14 L260.70,84.14 L260.90,91.71 L261.10,92.20 L261.30,92.28 L261.50,98.99 L261.70,98.20 L261.90,102.94 L262.10,99.90 L262.30,103.82 L262.50,108.36 L262.70,109.97 L262.90,110.50 L263.10,107.46 L263.30,110.01 L263.50,110.68 L263.70,111.70 L263.90,113.41 L264.10,115.56 L264.30,115.55 L264.50,119.26 L264.70,118.55 L264.90,121.06 L265.10,124.70 L265.30,123.86 L265.50,123.29 L265.70,124.73 L265.90,130.02 L266.10,128.05 L266.30,130.02 L266.50,127.60 L266.70,129.30 L266.90,132.44 L267.10,130.51 L267.30,132.11 L267.50,133.56 L267.70,132.51 L267.90,133.59 L268.10,133.66 L268.30,134.44 L268.50,136.59 L268.70,137.46 L268.90,138.95 L269.10,137.15 L269.30,138.91 L269.50,139.99 L269.70,139.34 L269.90,141.05 L270.10,140.05 L270.30,139.77 L270.50,142.18 L270.70,142.72 L270.90,142.54 L271.10,141.09 L271.30,142.59 L271.50,143.58 L271.70,142.83 L271.90,143.13 L272.10,143.96 L272.30,144.23 L272.50,143.95 L272.70,144.65 L272.90,144.75 L273.10,145.25 L273.30,144.52 L273.50,144.71 L273.70,144.72 L273.90,146.38 L274.10,145.61 L274.30,145.70 L274.50,146.69 L274.70,146.66 L274.90,146.44 L275.10,145.77 L275.30,146.47 L275.50,146.55 L275.70,147.25 L275.90,146.63 L276.10,147.11 L276.30,147.90 L276.50,147.44 L276.70,147.71 L276.90,148.61 L277.10,148.52 L277.30,148.82 L277.50,148.28 L277.70,148.73 L277.90,149.15 L278.10,149.21 L278.30,148.72 L278.50,148.83 L278.70,149.12 L278.90,149.58 L279.10,149.15 L279.30,149.24 L279.50,149.55 L279.70,149.63 L279.90,149.90 L280.10,149.82 L280.30,149.86 L280.50,150.09 L280.70,150.15 L280.90,150.26 L281.10,150.38 L281.30,150.59 L281.50,150.66 L281.70,150.79 L281.90,150.97 L282.10,150.96 L282.30,151.12 L282.50,151.26 L282.70,151.16 L282.90,151.18 L283.10,151.22 L283.30,151.21 L283.50,151.23 L283.70,151.28 L283.90,151.23 L284.10,151.26 L284.30,151.28 L284.50,151.29 L284.70,151.32 L284.90,151.31 L285.10,151.31 L285.30,151.31 L285.50,151.32 L285.70,151.36 L285.90,151.35 L286.10,151.34 L286.30,151.32 L286.50,151.39 L286.70,151.37 L286.90,151.38 L287.10,151.35 L287.30,151.41 L287.50,151.42 L287.70,151.41 L287.90,151.44 L288.10,151.44 L288.30,151.44 L288.50,151.46 L288.70,151.45 L288.90,151.44 L289.10,151.47 L289.30,151.48 L289.50,151.46 L289.70,151.50 L289.90,151.51 L290.10,151.51 L290.30,151.51 L290.50,151.50 L290.70,151.49 L290.90,151.51 L291.10,151.50 L291.30,151.49 L291.50,151.51 L291.70,151.51 L291.90,151.52 L292.10,151.51 L292.30,151.51 L292.50,151.52 L292.70,151.51 L292.90,151.52 L293.10,151.52 L293.30,151.51 L293.50,151.50 L293.70,151.51 L293.90,151.51 L294.10,151.52 L294.30,151.50 L294.50,151.50 L294.70,151.51 L294.90,151.51 L295.10,151.50 L295.30,151.52 L295.50,151.51 L295.70,151.51 L295.90,151.52 L296.10,151.53 L296.30,151.51 L296.50,151.52 L296.70,151.52 L296.90,151.51 L297.10,151.50 L297.30,151.52 L297.50,151.51 L297.70,151.51 L297.90,151.52 L298.10,151.52 L298.30,151.53 L298.50,151.51 L298.70,151.52 L298.90,151.53 L299.10,151.53 L299.30,151.52 L299.50,151.51 L299.70,151.53 L299.90,151.53 L300.10,151.52 L300.30,151.53 L300.50,151.53 L300.70,151.54 L300.90,151.52 L301.10,151.52 L301.30,151.54 L301.50,151.52 L301.70,151.54 L301.90,151.53 L302.10,151.53 L302.30,151.54 L302.50,151.54 L302.70,151.53 L302.90,151.53 L303.10,151.54 L303.30,151.53 L303.50,151.53 L303.70,151.53 L303.90,151.54 L304.10,151.53 L304.30,151.52 L304.50,151.52 L304.70,151.54 L304.90,151.53 L305.10,151.53 L305.30,151.53 L305.50,151.53 L305.70,151.54 L305.90,151.54 L306.10,151.53 L306.30,151.54 L306.50,151.54 L306.70,151.53 L306.90,151.54 L307.10,151.54 L307.30,151.54 L307.50,151.54 L307.70,151.54 L307.90,151.54 L308.10,151.55 L308.30,151.54 L308.50,151.54 L308.70,151.55 L308.90,151.54 L309.10,151.55 L309.30,151.54 L309.50,151.55 L309.70,151.55 L309.90,151.55 L310.10,151.55 L310.30,151.54 L310.50,151.55 L310.70,151.55 L310.90,151.55 L311.10,151.54 L311.30,151.54 L311.50,151.54 L311.70,151.56 L311.90,151.55 L312.10,151.56 L312.30,151.55 L312.50,151.56 L312.70,151.55 L312.90,151.55 L313.10,151.55 L313.30,151.55 L313.50,151.56 L313.70,151.55 L313.90,151.56 L314.10,151.55 L314.30,151.56 L314.50,151.56 L314.70,151.55 L314.90,151.56 L315.10,151.55 L315.30,151.55 L315.50,151.56 L315.70,151.56 L315.90,151.56 L316.10,151.56 L316.30,151.56 L316.50,151.56 L316.70,151.57 L316.90,151.56 L317.10,151.57 L317.30,151.56 L317.50,151.56 L317.70,151.57 L317.90,151.57 L318.10,151.56 L318.30,151.56 L318.50,151.57 L318.70,151.57 L318.90,151.57 L319.10,151.57 L319.30,151.57 L319.50,151.57 L319.70,151.57 L319.90,151.57 L320.10,151.57 L320.30,151.57 L320.50,151.57 L320.70,151.57 L320.90,151.57 L321.10,151.57 L321.30,151.58 L321.50,151.58 L321.70,151.57 L321.90,151.58 L322.10,151.58 L322.30,151.57 L322.50,151.58 L322.70,151.57 L322.90,151.58 L323.10,151.58 L323.30,151.58 L323.50,151.58 L323.70,151.58 L323.90,151.58 L324.10,151.58 L324.30,151.58 L324.50,151.58 L324.70,151.58 L324.90,151.58 L325.10,151.58 L325.30,151.58 L325.50,151.58 L325.70,151.58 L325.90,151.58 L326.10,151.58 L326.30,151.59 L326.50,151.59 L326.70,151.58 L326.90,151.58 L327.10,151.59 L327.30,151.59 L327.50,151.59 L327.70,151.59 L327.90,151.59 L328.10,151.59 L328.30,151.59 L328.50,151.59 L328.70,151.59 L328.90,151.59 L329.10,151.59 L329.30,151.59 L329.50,151.59 L329.70,151.59 L329.90,151.59 L330.10,151.59 L330.30,151.59 L330.50,151.59 L330.70,151.59 L330.90,151.60 L331.10,151.60 L331.30,151.60 L331.50,151.60 L331.70,151.60 L331.90,151.60 L332.10,151.60 L332.30,151.60 L332.50,151.60 L332.70,151.60 L332.90,151.60" fill="none" stroke="#424242" stroke-width="0.65" stroke-linejoin="round"/>
<rect x="199.30" y="34.30" width="133.70" height="117.90" fill="none" stroke="#949494" stroke-width="1.5"/>
<text x="174.4" y="20.9" font-size="24" font-weight="bold" fill="#000">B</text>
<text transform="translate(196.00,152.00) rotate(-90)" font-size="9.0" text-anchor="middle" fill="#1e1e1e" stroke="#1e1e1e" stroke-width="0.3">0</text>
<text transform="translate(196.00,128.36) rotate(-90)" font-size="9.0" text-anchor="middle" fill="#1e1e1e" stroke="#1e1e1e" stroke-width="0.3">80</text>
<text transform="translate(196.00,104.72) rotate(-90)" font-size="9.0" text-anchor="middle" fill="#1e1e1e" stroke="#1e1e1e" stroke-width="0.3">160</text>
<text transform="translate(196.00,81.08) rotate(-90)" font-size="9.0" text-anchor="middle" fill="#1e1e1e" stroke="#1e1e1e" stroke-width="0.3">240</text>
<text transform="translate(196.00,57.44) rotate(-90)" font-size="9.0" text-anchor="middle" fill="#1e1e1e" stroke="#1e1e1e" stroke-width="0.3">320</text>
<text transform="translate(196.00,33.80) rotate(-90)" font-size="9.0" text-anchor="middle" fill="#1e1e1e" stroke="#1e1e1e" stroke-width="0.3">400</text>
<text transform="translate(183.30,89.30) rotate(-90)" font-size="10.3" text-anchor="middle" fill="#1e1e1e" stroke="#1e1e1e" stroke-width="0.3">Counts</text>
<text x="198.00" y="165.60" font-size="9.0" text-anchor="middle" fill="#1e1e1e" stroke="#1e1e1e" stroke-width="0.3">10<tspan dy="-3.4">0</tspan></text>
<text x="231.60" y="165.60" font-size="9.0" text-anchor="middle" fill="#1e1e1e" stroke="#1e1e1e" stroke-width="0.3">10<tspan dy="-3.4">1</tspan></text>
<text x="265.20" y="165.60" font-size="9.0" text-anchor="middle" fill="#1e1e1e" stroke="#1e1e1e" stroke-width="0.3">10<tspan dy="-3.4">2</tspan></text>
<text x="298.50" y="165.60" font-size="9.0" text-anchor="middle" fill="#1e1e1e" stroke="#1e1e1e" stroke-width="0.3">10<tspan dy="-3.4">3</tspan></text>
<text x="332.10" y="165.60" font-size="9.0" text-anchor="middle" fill="#1e1e1e" stroke="#1e1e1e" stroke-width="0.3">10<tspan dy="-3.4">4</tspan></text>
<text x="265.10" y="177.00" font-size="9.4" text-anchor="middle" fill="#1e1e1e" stroke="#1e1e1e" stroke-width="0.3">FL2-Height</text>
<path d="M29.00,304.17 L29.25,310.12 L29.50,309.79 L29.75,308.02 L30.00,302.93 L30.25,302.12 L30.50,302.12 L30.75,307.56 L31.00,300.11 L31.25,302.09 L31.50,303.21 L31.75,305.61 L32.00,306.70 L32.25,307.29 L32.50,302.13 L32.75,302.58 L33.00,305.20 L33.25,306.63 L33.50,296.29 L33.75,307.24 L34.00,303.18 L34.25,303.78 L34.50,296.31 L34.75,301.95 L35.00,297.68 L35.25,300.38 L35.50,305.04 L35.75,304.02 L36.00,298.98 L36.25,300.82 L36.50,295.27 L36.75,301.64 L37.00,292.68 L37.25,301.72 L37.50,294.53 L37.75,301.02 L38.00,297.92 L38.25,300.02 L38.50,298.07 L38.75,295.94 L39.00,300.36 L39.25,290.15 L39.50,297.29 L39.75,299.60 L40.00,291.60 L40.25,292.63 L40.50,287.55 L40.75,289.06 L41.00,286.84 L41.25,297.50 L41.50,290.34 L41.75,287.74 L42.00,291.27 L42.25,294.38 L42.50,287.69 L42.75,293.32 L43.00,283.82 L43.25,286.70 L43.50,284.20 L43.75,286.29 L44.00,288.56 L44.25,288.78 L44.50,288.13 L44.75,288.87 L45.00,284.73 L45.25,288.63 L45.50,280.29 L45.75,287.77 L46.00,286.75 L46.25,281.01 L46.50,288.32 L46.75,282.42 L47.00,278.64 L47.25,281.37 L47.50,284.69 L47.75,279.71 L48.00,275.64 L48.25,281.59 L48.50,285.70 L48.75,276.73 L49.00,282.63 L49.25,274.36 L49.50,279.61 L49.75,280.39 L50.00,275.62 L50.25,273.47 L50.50,275.94 L50.75,271.84 L51.00,268.52 L51.25,278.64 L51.50,276.99 L51.75,273.85 L52.00,274.10 L52.25,265.36 L52.50,267.87 L52.75,265.33 L53.00,264.78 L53.25,265.58 L53.50,263.03 L53.75,264.62 L54.00,262.61 L54.25,271.15 L54.30,258.80 L54.50,265.78 L54.75,269.07 L55.00,270.67 L55.25,263.72 L55.50,264.89 L55.75,261.87 L56.00,261.24 L56.25,259.01 L56.50,267.87 L56.75,260.14 L57.00,258.03 L57.25,268.38 L57.50,263.07 L57.75,264.87 L58.00,256.30 L58.00,262.23 L58.25,262.57 L58.50,265.75 L58.75,264.51 L59.00,266.31 L59.25,266.59 L59.50,271.78 L59.75,274.38 L60.00,271.83 L60.25,269.96 L60.50,269.95 L60.75,276.08 L61.00,276.05 L61.25,270.79 L61.50,280.14 L61.75,282.82 L62.00,272.22 L62.25,284.52 L62.50,277.96 L62.75,278.86 L63.00,282.47 L63.25,289.18 L63.50,286.96 L63.75,289.92 L64.00,291.25 L64.25,294.65 L64.50,297.34 L64.75,297.93 L65.00,292.37 L65.25,300.06 L65.50,299.57 L65.75,302.79 L66.00,306.78 L66.25,305.33 L66.50,312.85 L66.75,307.72 L67.00,313.43 L67.25,316.18 L67.50,313.02 L67.75,321.14 L68.00,320.62 L68.25,321.04 L68.50,327.43 L68.75,327.05 L69.00,323.12 L69.25,329.60 L69.50,331.89 L69.75,329.81 L70.00,334.01 L70.25,332.54 L70.50,333.69 L70.75,334.83 L71.00,332.82 L71.25,333.25 L71.50,335.61 L71.75,334.93 L72.00,335.58 L72.25,336.25 L72.50,335.50 L72.75,336.00 L73.00,336.06 L73.25,335.97 L73.50,337.33 L73.75,336.86 L74.00,337.60 L74.25,336.99 L74.50,336.94 L74.75,337.83 L75.00,337.61 L75.25,338.06 L75.50,337.60 L75.75,337.95 L76.00,337.96 L76.25,338.22 L76.50,338.22 L76.75,338.11 L77.00,338.04 L77.25,338.34 L77.50,338.08 L77.75,338.19 L78.00,338.02 L78.25,338.42 L78.50,338.58 L78.75,338.55 L79.00,338.68 L79.25,338.57 L79.50,338.71 L79.75,338.80 L80.00,338.74 L80.25,338.86 L80.50,338.71 L80.75,338.73 L81.00,338.75 L81.25,338.84 L81.50,338.92 L81.75,338.94 L82.00,338.75 L82.25,338.83 L82.50,338.95 L82.75,338.80 L83.00,338.88 L83.25,338.85 L83.50,338.85 L83.75,338.81 L84.00,338.98 L84.25,338.98 L84.50,338.91 L84.75,338.91 L85.00,338.98 L85.25,338.97 L85.50,338.92 L85.75,338.90 L86.00,338.91 L86.25,338.96 L86.50,338.96 L86.75,339.04 L87.00,339.04 L87.25,338.99 L87.50,338.99 L87.75,339.06 L88.00,339.06 L88.25,339.02 L88.50,338.99 L88.75,339.03 L89.00,339.09 L89.25,339.08 L89.50,339.08 L89.75,339.04 L90.00,339.08 L90.25,339.10 L90.50,339.09 L90.75,339.06 L91.00,339.08 L91.25,339.09 L91.50,339.11 L91.75,339.09 L92.00,339.11 L92.25,339.14 L92.50,339.13 L92.75,339.16 L93.00,339.15 L93.25,339.16 L93.50,339.15 L93.75,339.17 L94.00,339.18 L94.25,339.17 L94.50,339.19 L94.75,339.19 L95.00,339.20 L95.25,339.20 L95.50,339.20 L95.75,339.20 L96.00,339.20 L96.25,339.20 L96.50,339.20 L96.75,339.20 L97.00,339.20 L97.25,339.20 L97.50,339.20 L97.75,339.20 L98.00,339.20 L98.25,339.20 L98.50,339.20 L98.75,339.20 L99.00,339.20 L99.25,339.20 L99.50,339.20 L99.75,339.20 L100.00,339.20 L100.25,339.20 L100.50,339.20 L100.75,339.20 L101.00,339.20 L101.25,339.20 L101.50,339.20 L101.75,339.20 L102.00,339.20 L102.25,339.20 L102.50,339.20 L102.75,339.20 L103.00,339.20 L103.25,339.20 L103.50,339.20 L103.75,339.20 L104.00,339.20 L104.25,339.20 L104.50,339.20 L104.75,339.20 L105.00,339.20 L105.25,339.20 L105.50,339.20 L105.75,339.20 L106.00,339.20 L106.25,339.20 L106.50,339.20 L106.75,339.20 L107.00,339.20 L107.25,339.20 L107.50,339.20 L107.75,339.20 L108.00,339.20 L108.25,339.20 L108.50,339.20 L108.75,339.20 L109.00,339.20 L109.25,339.20 L109.50,339.20 L109.75,339.20 L110.00,339.20 L110.25,339.20 L110.50,339.20 L110.75,339.20 L111.00,339.20 L111.25,339.20 L111.50,339.20 L111.75,339.20 L112.00,339.20 L112.25,339.20 L112.50,339.20 L112.75,339.20 L113.00,339.20 L113.25,339.20 L113.50,339.20 L113.75,339.20 L114.00,339.20 L114.25,339.20 L114.50,339.20 L114.75,339.20 L115.00,339.20 L115.25,339.20 L115.50,339.20 L115.75,339.20 L116.00,339.20 L116.25,339.20 L116.50,339.20 L116.75,339.20 L117.00,339.20 L117.25,339.20 L117.50,339.20 L117.75,339.20 L118.00,339.20 L118.25,339.20 L118.50,339.20 L118.75,339.20 L119.00,339.20 L119.25,339.20 L119.50,339.20 L119.75,339.20 L120.00,339.20 L120.25,339.20 L120.50,339.20 L120.75,339.20 L121.00,339.20 L121.25,339.20 L121.50,339.20 L121.75,339.20 L122.00,339.20 L122.25,339.20 L122.50,339.20 L122.75,339.20 L123.00,339.20 L123.25,339.20 L123.50,339.20 L123.75,339.20 L124.00,339.20 L124.25,339.20 L124.50,339.20 L124.75,339.20 L125.00,339.20 L125.25,339.20 L125.50,339.20 L125.75,339.20 L126.00,339.20 L126.25,339.20 L126.50,339.20 L126.75,339.20 L127.00,339.20 L127.25,339.20 L127.50,339.20 L127.75,339.20 L128.00,339.20 L128.25,339.20 L128.50,339.20 L128.75,339.20 L129.00,339.20 L129.25,339.20 L129.50,339.20 L129.75,339.20 L130.00,339.20 L130.25,339.20 L130.50,339.20 L130.75,339.20 L131.00,339.20 L131.25,339.20 L131.50,339.20 L131.75,339.20 L132.00,339.20 L132.25,339.20 L132.50,339.20 L132.75,339.20 L133.00,339.20 L133.25,339.20 L133.50,339.20 L133.75,339.20 L134.00,339.20 L134.25,339.20 L134.50,339.20 L134.75,339.20 L135.00,339.20 L135.25,339.20 L135.50,339.20 L135.75,339.20 L136.00,339.20 L136.25,339.20 L136.50,339.20 L136.75,339.20 L137.00,339.20 L137.25,339.20 L137.50,339.20 L137.75,339.20 L138.00,339.20 L138.25,339.20 L138.50,339.20 L138.75,339.20 L139.00,339.20 L139.25,339.20 L139.50,339.20 L139.75,339.20 L140.00,339.20 L140.25,339.20 L140.50,339.20 L140.75,339.20 L141.00,339.20 L141.25,339.20 L141.50,339.20 L141.75,339.20 L142.00,339.20 L142.25,339.20 L142.50,339.20 L142.75,339.20 L143.00,339.20 L143.25,339.20 L143.50,339.20 L143.75,339.20 L144.00,339.20 L144.25,339.20 L144.50,339.20 L144.75,339.20 L145.00,339.20 L145.25,339.20 L145.50,339.20 L145.75,339.20 L146.00,339.20 L146.25,339.20 L146.50,339.20 L146.75,339.20 L147.00,339.20 L147.25,339.20 L147.50,339.20 L147.75,339.20 L148.00,339.20 L148.25,339.20 L148.50,339.20 L148.75,339.20 L149.00,339.20 L149.25,339.20 L149.50,339.20 L149.75,339.20 L150.00,339.20 L150.25,339.20 L150.50,339.20 L150.75,339.20 L151.00,339.20 L151.25,339.20 L151.50,339.20 L151.75,339.20 L152.00,339.20 L152.25,339.20 L152.50,339.20 L152.75,339.20 L153.00,339.20 L153.25,339.20 L153.50,339.20 L153.75,339.20 L154.00,339.20 L154.25,339.20 L154.50,339.20 L154.75,339.20 L155.00,339.20 L155.25,339.20 L155.50,339.20 L155.75,339.20 L156.00,339.20 L156.25,339.20 L156.50,339.20 L156.75,339.20 L157.00,339.20 L157.25,339.20 L157.50,339.20 L157.75,339.20 L158.00,339.20 L158.25,339.20 L158.50,339.20 L158.75,339.20 L159.00,339.20 L159.25,339.20 L159.50,339.20 L159.75,339.20 L160.00,339.20 L160.25,339.20 L160.50,339.20 L160.75,339.20 L161.00,339.20 L161.25,339.20 L161.50,339.20 L161.75,339.20 L162.00,339.20 L162.25,339.20 L162.50,339.20 L162.75,339.20" fill="none" stroke="#a0a0a0" stroke-width="0.42" stroke-linejoin="round"/>
<path d="M29.00,337.02 L29.20,336.82 L29.40,337.08 L29.60,336.92 L29.80,336.92 L30.00,336.59 L30.20,336.58 L30.40,336.64 L30.60,336.94 L30.80,336.31 L31.00,336.88 L31.20,336.75 L31.40,336.03 L31.60,336.19 L31.80,336.62 L32.00,336.49 L32.20,336.64 L32.40,336.02 L32.60,336.23 L32.80,335.76 L33.00,335.58 L33.20,335.99 L33.40,335.90 L33.60,335.72 L33.80,336.18 L34.00,335.99 L34.20,335.47 L34.40,335.61 L34.60,335.53 L34.80,335.53 L35.00,335.59 L35.20,335.63 L35.40,335.01 L35.60,334.90 L35.80,335.61 L36.00,335.74 L36.20,334.99 L36.40,335.15 L36.60,334.57 L36.80,334.88 L37.00,335.46 L37.20,334.32 L37.40,334.70 L37.60,334.35 L37.80,334.49 L38.00,334.75 L38.20,334.78 L38.40,334.97 L38.60,333.70 L38.80,334.00 L39.00,334.68 L39.20,333.22 L39.40,333.48 L39.60,333.23 L39.80,333.11 L40.00,333.09 L40.20,333.86 L40.40,332.96 L40.60,333.92 L40.80,333.51 L41.00,334.06 L41.20,333.52 L41.40,332.70 L41.60,333.91 L41.80,333.12 L42.00,332.79 L42.20,333.57 L42.40,332.67 L42.60,331.72 L42.80,332.90 L43.00,333.25 L43.20,332.77 L43.40,332.06 L43.60,331.47 L43.80,332.49 L44.00,331.59 L44.20,332.50 L44.40,332.73 L44.60,332.39 L44.80,331.87 L45.00,331.76 L45.20,330.90 L45.40,331.42 L45.60,330.67 L45.80,330.76 L46.00,331.76 L46.20,331.84 L46.40,329.48 L46.60,331.41 L46.80,329.89 L47.00,328.66 L47.20,330.52 L47.40,330.46 L47.60,329.71 L47.80,330.50 L48.00,329.32 L48.20,328.68 L48.40,329.60 L48.60,327.30 L48.80,329.91 L49.00,328.19 L49.20,328.06 L49.40,326.75 L49.60,327.46 L49.80,328.83 L50.00,328.86 L50.20,328.32 L50.40,328.37 L50.60,328.48 L50.80,325.55 L51.00,326.29 L51.20,325.05 L51.40,325.74 L51.60,324.85 L51.80,328.02 L52.00,325.88 L52.20,326.13 L52.40,326.23 L52.60,326.91 L52.80,325.12 L53.00,326.17 L53.20,326.73 L53.40,325.59 L53.60,324.15 L53.80,325.72 L54.00,323.41 L54.20,324.96 L54.40,324.89 L54.60,320.96 L54.80,322.81 L55.00,321.41 L55.20,322.39 L55.40,321.53 L55.60,324.65 L55.80,323.87 L56.00,321.52 L56.20,320.92 L56.40,323.40 L56.60,322.60 L56.80,322.50 L57.00,320.99 L57.20,319.84 L57.40,322.25 L57.60,321.92 L57.80,322.05 L58.00,320.56 L58.20,318.32 L58.40,316.96 L58.60,315.90 L58.80,317.25 L59.00,314.45 L59.20,314.41 L59.40,314.78 L59.60,316.93 L59.80,313.15 L60.00,315.31 L60.20,317.48 L60.40,314.17 L60.60,314.46 L60.80,316.73 L61.00,314.73 L61.20,312.30 L61.40,315.39 L61.60,313.68 L61.80,310.14 L62.00,309.09 L62.20,314.27 L62.40,308.69 L62.60,308.14 L62.80,309.12 L63.00,312.65 L63.20,310.01 L63.40,308.11 L63.60,308.31 L63.80,310.13 L64.00,306.50 L64.20,309.16 L64.40,306.32 L64.60,306.98 L64.80,304.76 L65.00,307.12 L65.20,307.28 L65.40,305.01 L65.60,303.93 L65.80,304.91 L66.00,304.06 L66.20,303.95 L66.40,300.45 L66.60,303.13 L66.80,299.20 L67.00,302.46 L67.20,299.25 L67.40,301.54 L67.60,301.14 L67.80,298.07 L68.00,301.90 L68.20,301.87 L68.40,301.07 L68.60,297.63 L68.80,298.26 L69.00,296.89 L69.20,299.11 L69.40,294.95 L69.60,297.96 L69.80,298.56 L70.00,292.67 L70.20,296.78 L70.40,293.15 L70.60,293.72 L70.80,295.52 L71.00,292.85 L71.20,292.30 L71.40,290.15 L71.60,294.79 L71.80,289.12 L72.00,293.84 L72.20,288.45 L72.40,290.39 L72.60,291.17 L72.80,291.07 L73.00,291.06 L73.20,291.04 L73.40,285.51 L73.60,284.48 L73.80,288.85 L74.00,285.95 L74.20,283.86 L74.40,284.61 L74.60,281.14 L74.80,282.98 L75.00,281.02 L75.20,280.15 L75.40,280.39 L75.60,283.01 L75.80,279.44 L76.00,277.42 L76.20,280.60 L76.40,276.69 L76.60,279.07 L76.80,275.29 L77.00,275.84 L77.20,272.32 L77.40,272.95 L77.60,274.95 L77.80,274.03 L78.00,270.68 L78.20,271.87 L78.40,270.44 L78.60,266.90 L78.80,271.84 L79.00,268.52 L79.20,267.24 L79.40,265.31 L79.60,264.96 L79.80,268.59 L80.00,267.31 L80.20,264.32 L80.40,261.63 L80.60,261.11 L80.80,262.64 L81.00,263.38 L81.20,259.70 L81.40,260.30 L81.60,258.47 L81.80,255.33 L82.00,253.65 L82.20,253.39 L82.40,252.02 L82.60,255.06 L82.80,252.31 L83.00,252.39 L83.20,251.46 L83.40,252.76 L83.60,249.52 L83.80,250.08 L84.00,250.58 L84.20,247.57 L84.40,250.30 L84.60,245.85 L84.60,246.20 L84.80,251.52 L85.00,252.53 L85.20,249.46 L85.40,249.41 L85.60,253.28 L85.80,250.32 L86.00,253.04 L86.20,253.88 L86.40,252.98 L86.60,253.54 L86.80,259.93 L87.00,260.09 L87.20,258.16 L87.40,256.08 L87.60,261.02 L87.80,262.79 L88.00,261.99 L88.20,259.99 L88.40,265.47 L88.60,264.04 L88.80,266.73 L89.00,267.95 L89.20,265.63 L89.40,271.95 L89.60,273.43 L89.80,274.47 L90.00,275.42 L90.20,276.33 L90.40,277.63 L90.60,283.52 L90.80,283.01 L91.00,282.10 L91.20,287.43 L91.40,286.61 L91.60,285.47 L91.80,291.99 L92.00,292.70 L92.20,289.50 L92.40,293.26 L92.60,296.17 L92.80,298.77 L93.00,301.53 L93.20,300.47 L93.40,302.68 L93.60,301.78 L93.80,303.17 L94.00,308.81 L94.20,309.25 L94.40,310.28 L94.60,308.60 L94.80,307.46 L95.00,308.67 L95.20,310.48 L95.40,313.89 L95.60,311.77 L95.80,311.19 L96.00,314.53 L96.20,314.44 L96.40,315.07 L96.60,316.28 L96.80,315.85 L97.00,320.64 L97.20,319.38 L97.40,316.99 L97.60,320.88 L97.80,318.32 L98.00,322.47 L98.20,320.68 L98.40,322.50 L98.60,323.80 L98.80,320.70 L99.00,322.78 L99.20,325.33 L99.40,325.33 L99.60,326.60 L99.80,323.19 L100.00,325.05 L100.20,325.55 L100.40,325.07 L100.60,325.41 L100.80,325.74 L101.00,326.28 L101.20,326.19 L101.40,327.26 L101.60,328.15 L101.80,328.73 L102.00,327.54 L102.20,327.91 L102.40,328.75 L102.60,330.76 L102.80,329.05 L103.00,328.84 L103.20,329.29 L103.40,330.30 L103.60,330.80 L103.80,330.53 L104.00,331.34 L104.20,331.71 L104.40,331.27 L104.60,331.46 L104.80,332.36 L105.00,332.48 L105.20,332.34 L105.40,332.77 L105.60,333.86 L105.80,334.00 L106.00,333.44 L106.20,334.30 L106.40,334.47 L106.60,333.68 L106.80,333.69 L107.00,335.15 L107.20,334.48 L107.40,334.69 L107.60,334.88 L107.80,335.67 L108.00,335.56 L108.20,335.73 L108.40,336.41 L108.60,336.37 L108.80,336.29 L109.00,336.91 L109.20,336.49 L109.40,337.18 L109.60,337.50 L109.80,337.53 L110.00,337.53 L110.20,337.67 L110.40,338.02 L110.60,337.96 L110.80,338.02 L111.00,338.12 L111.20,338.42 L111.40,338.47 L111.60,338.48 L111.80,338.45 L112.00,338.64 L112.20,338.65 L112.40,338.81 L112.60,338.90 L112.80,338.96 L113.00,339.02 L113.20,339.11 L113.40,339.20 L113.60,339.20 L113.80,339.20 L114.00,339.20 L114.20,339.20 L114.40,339.20 L114.60,339.20 L114.80,339.20 L115.00,339.20 L115.20,339.20 L115.40,339.20 L115.60,339.20 L115.80,339.20 L116.00,339.20 L116.20,339.20 L116.40,339.20 L116.60,339.20 L116.80,339.20 L117.00,339.20 L117.20,339.20 L117.40,339.20 L117.60,339.20 L117.80,339.20 L118.00,339.20 L118.20,339.20 L118.40,339.20 L118.60,339.20 L118.80,339.20 L119.00,339.20 L119.20,339.20 L119.40,339.20 L119.60,339.20 L119.80,339.20 L120.00,339.20 L120.20,339.20 L120.40,339.20 L120.60,339.20 L120.80,339.20 L121.00,339.20 L121.20,339.20 L121.40,339.20 L121.60,339.20 L121.80,339.20 L122.00,339.20 L122.20,339.20 L122.40,339.20 L122.60,339.20 L122.80,339.20 L123.00,339.20 L123.20,339.20 L123.40,339.20 L123.60,339.20 L123.80,339.20 L124.00,339.20 L124.20,339.20 L124.40,339.20 L124.60,339.20 L124.80,339.20 L125.00,339.20 L125.20,339.20 L125.40,339.20 L125.60,339.20 L125.80,339.20 L126.00,339.20 L126.20,339.20 L126.40,339.20 L126.60,339.20 L126.80,339.20 L127.00,339.20 L127.20,339.20 L127.40,339.20 L127.60,339.20 L127.80,339.20 L128.00,339.20 L128.20,339.20 L128.40,339.20 L128.60,339.20 L128.80,339.20 L129.00,339.20 L129.20,339.20 L129.40,339.20 L129.60,339.20 L129.80,339.20 L130.00,339.20 L130.20,339.20 L130.40,339.20 L130.60,339.20 L130.80,339.20 L131.00,339.20 L131.20,339.20 L131.40,339.20 L131.60,339.20 L131.80,339.20 L132.00,339.20 L132.20,339.20 L132.40,339.20 L132.60,339.20 L132.80,339.20 L133.00,339.20 L133.20,339.20 L133.40,339.20 L133.60,339.20 L133.80,339.20 L134.00,339.20 L134.20,339.20 L134.40,339.20 L134.60,339.20 L134.80,339.20 L135.00,339.20 L135.20,339.20 L135.40,339.20 L135.60,339.20 L135.80,339.20 L136.00,339.20 L136.20,339.20 L136.40,339.20 L136.60,339.20 L136.80,339.20 L137.00,339.20 L137.20,339.20 L137.40,339.20 L137.60,339.20 L137.80,339.20 L138.00,339.20 L138.20,339.20 L138.40,339.20 L138.60,339.20 L138.80,339.20 L139.00,339.20 L139.20,339.20 L139.40,339.20 L139.60,339.20 L139.80,339.20 L140.00,339.20 L140.20,339.20 L140.40,339.20 L140.60,339.20 L140.80,339.20 L141.00,339.20 L141.20,339.20 L141.40,339.20 L141.60,339.20 L141.80,339.20 L142.00,339.20 L142.20,339.20 L142.40,339.20 L142.60,339.20 L142.80,339.20 L143.00,339.20 L143.20,339.20 L143.40,339.20 L143.60,339.20 L143.80,339.20 L144.00,339.20 L144.20,339.20 L144.40,339.20 L144.60,339.20 L144.80,339.20 L145.00,339.20 L145.20,339.20 L145.40,339.20 L145.60,339.20 L145.80,339.20 L146.00,339.20 L146.20,339.20 L146.40,339.20 L146.60,339.20 L146.80,339.20 L147.00,339.20 L147.20,339.20 L147.40,339.20 L147.60,339.20 L147.80,339.20 L148.00,339.20 L148.20,339.20 L148.40,339.20 L148.60,339.20 L148.80,339.20 L149.00,339.20 L149.20,339.20 L149.40,339.20 L149.60,339.20 L149.80,339.20 L150.00,339.20 L150.20,339.20 L150.40,339.20 L150.60,339.20 L150.80,339.20 L151.00,339.20 L151.20,339.20 L151.40,339.20 L151.60,339.20 L151.80,339.20 L152.00,339.20 L152.20,339.20 L152.40,339.20 L152.60,339.20 L152.80,339.20 L153.00,339.20 L153.20,339.20 L153.40,339.20 L153.60,339.20 L153.80,339.20 L154.00,339.20 L154.20,339.20 L154.40,339.20 L154.60,339.20 L154.80,339.20 L155.00,339.20 L155.20,339.20 L155.40,339.20 L155.60,339.20 L155.80,339.20 L156.00,339.20 L156.20,339.20 L156.40,339.20 L156.60,339.20 L156.80,339.20 L157.00,339.20 L157.20,339.20 L157.40,339.20 L157.60,339.20 L157.80,339.20 L158.00,339.20 L158.20,339.20 L158.40,339.20 L158.60,339.20 L158.80,339.20 L159.00,339.20 L159.20,339.20 L159.40,339.20 L159.60,339.20 L159.80,339.20 L160.00,339.20 L160.20,339.20 L160.40,339.20 L160.60,339.20 L160.80,339.20 L161.00,339.20 L161.20,339.20 L161.40,339.20 L161.60,339.20 L161.80,339.20 L162.00,339.20 L162.20,339.20 L162.40,339.20 L162.60,339.20 L162.80,339.20" fill="none" stroke="#424242" stroke-width="0.65" stroke-linejoin="round"/>
<rect x="28.80" y="222.60" width="134.20" height="117.20" fill="none" stroke="#949494" stroke-width="1.5"/>
<text x="3.0" y="206.3" font-size="25" font-weight="bold" fill="#000">C</text>
<text transform="translate(26.00,339.50) rotate(-90)" font-size="9.0" text-anchor="middle" fill="#1e1e1e" stroke="#1e1e1e" stroke-width="0.3">0</text>
<text transform="translate(26.00,315.78) rotate(-90)" font-size="9.0" text-anchor="middle" fill="#1e1e1e" stroke="#1e1e1e" stroke-width="0.3">80</text>
<text transform="translate(26.00,292.06) rotate(-90)" font-size="9.0" text-anchor="middle" fill="#1e1e1e" stroke="#1e1e1e" stroke-width="0.3">160</text>
<text transform="translate(26.00,268.34) rotate(-90)" font-size="9.0" text-anchor="middle" fill="#1e1e1e" stroke="#1e1e1e" stroke-width="0.3">240</text>
<text transform="translate(26.00,244.62) rotate(-90)" font-size="9.0" text-anchor="middle" fill="#1e1e1e" stroke="#1e1e1e" stroke-width="0.3">320</text>
<text transform="translate(26.00,220.90) rotate(-90)" font-size="9.0" text-anchor="middle" fill="#1e1e1e" stroke="#1e1e1e" stroke-width="0.3">400</text>
<text transform="translate(8.60,281.30) rotate(-90)" font-size="10.3" text-anchor="middle" fill="#1e1e1e" stroke="#1e1e1e" stroke-width="0.3">Counts</text>
<text x="27.30" y="353.60" font-size="9.0" text-anchor="middle" fill="#1e1e1e" stroke="#1e1e1e" stroke-width="0.3">10<tspan dy="-3.4">0</tspan></text>
<text x="61.40" y="353.60" font-size="9.0" text-anchor="middle" fill="#1e1e1e" stroke="#1e1e1e" stroke-width="0.3">10<tspan dy="-3.4">1</tspan></text>
<text x="94.50" y="353.60" font-size="9.0" text-anchor="middle" fill="#1e1e1e" stroke="#1e1e1e" stroke-width="0.3">10<tspan dy="-3.4">2</tspan></text>
<text x="127.60" y="353.60" font-size="9.0" text-anchor="middle" fill="#1e1e1e" stroke="#1e1e1e" stroke-width="0.3">10<tspan dy="-3.4">3</tspan></text>
<text x="160.80" y="353.60" font-size="9.0" text-anchor="middle" fill="#1e1e1e" stroke="#1e1e1e" stroke-width="0.3">10<tspan dy="-3.4">4</tspan></text>
<text x="94.25" y="364.20" font-size="9.4" text-anchor="middle" fill="#1e1e1e" stroke="#1e1e1e" stroke-width="0.3">FL2-Height</text>
<path d="M201.50,305.98 L201.75,304.90 L202.00,305.61 L202.25,301.17 L202.50,297.06 L202.75,301.38 L203.00,305.88 L203.25,297.77 L203.50,294.28 L203.75,296.89 L204.00,301.07 L204.25,293.55 L204.50,304.43 L204.75,293.41 L205.00,294.49 L205.25,297.45 L205.50,299.24 L205.75,292.13 L206.00,293.32 L206.25,296.73 L206.50,298.77 L206.75,290.95 L207.00,294.73 L207.25,294.31 L207.50,291.54 L207.75,290.95 L208.00,292.97 L208.25,299.82 L208.50,288.99 L208.75,292.88 L209.00,293.64 L209.25,295.58 L209.50,292.28 L209.75,296.37 L210.00,296.51 L210.25,293.08 L210.50,291.35 L210.75,288.00 L211.00,294.01 L211.25,284.83 L211.50,289.78 L211.75,291.59 L212.00,290.42 L212.25,293.81 L212.50,285.95 L212.75,293.22 L213.00,293.55 L213.25,291.93 L213.50,282.93 L213.75,290.72 L214.00,289.83 L214.25,287.36 L214.50,288.26 L214.75,287.93 L215.00,289.44 L215.25,282.08 L215.50,284.77 L215.75,286.16 L216.00,287.49 L216.25,287.14 L216.50,287.02 L216.75,283.18 L217.00,287.05 L217.25,280.49 L217.50,283.15 L217.75,281.52 L218.00,281.91 L218.25,275.36 L218.50,273.53 L218.75,275.64 L219.00,274.91 L219.25,275.36 L219.50,279.32 L219.75,274.22 L220.00,279.30 L220.25,270.68 L220.50,269.75 L220.75,270.94 L221.00,268.17 L221.25,276.04 L221.50,277.00 L221.75,277.90 L222.00,272.54 L222.25,273.29 L222.50,276.74 L222.75,276.06 L223.00,271.21 L223.25,274.86 L223.50,265.57 L223.75,264.95 L224.00,271.13 L224.25,268.54 L224.50,263.87 L224.75,268.17 L225.00,261.20 L225.00,273.71 L225.25,265.23 L225.50,263.09 L225.75,267.74 L226.00,262.58 L226.25,261.44 L226.50,262.18 L226.75,267.54 L227.00,265.04 L227.25,270.22 L227.50,267.67 L227.75,269.90 L228.00,261.24 L228.10,259.10 L228.25,268.37 L228.50,266.93 L228.75,265.11 L229.00,268.30 L229.25,269.32 L229.50,264.94 L229.75,268.95 L230.00,272.11 L230.25,265.44 L230.50,271.21 L230.75,270.14 L231.00,267.15 L231.25,271.39 L231.50,268.64 L231.75,277.02 L232.00,274.16 L232.25,271.26 L232.50,275.07 L232.75,271.87 L233.00,282.53 L233.25,280.40 L233.50,282.06 L233.75,283.46 L234.00,279.07 L234.25,288.93 L234.50,280.13 L234.75,287.31 L235.00,284.19 L235.25,285.65 L235.50,295.52 L235.75,288.88 L236.00,296.14 L236.25,294.40 L236.50,303.47 L236.75,298.11 L237.00,299.36 L237.25,305.67 L237.50,310.65 L237.75,310.16 L238.00,309.26 L238.25,311.53 L238.50,310.71 L238.75,313.13 L239.00,313.96 L239.25,320.08 L239.50,320.44 L239.75,325.49 L240.00,326.21 L240.25,320.20 L240.50,322.95 L240.75,323.09 L241.00,328.88 L241.25,330.39 L241.50,332.04 L241.75,330.86 L242.00,332.28 L242.25,331.66 L242.50,334.14 L242.75,334.84 L243.00,334.69 L243.25,335.21 L243.50,335.74 L243.75,335.97 L244.00,336.33 L244.25,337.13 L244.50,337.47 L244.75,337.85 L245.00,337.94 L245.25,337.86 L245.50,337.89 L245.75,338.00 L246.00,337.93 L246.25,337.97 L246.50,338.08 L246.75,338.27 L247.00,338.28 L247.25,338.69 L247.50,338.53 L247.75,338.55 L248.00,338.88 L248.25,338.79 L248.50,338.78 L248.75,338.91 L249.00,338.74 L249.25,338.90 L249.50,338.81 L249.75,338.82 L250.00,338.88 L250.25,338.82 L250.50,338.95 L250.75,338.92 L251.00,338.93 L251.25,338.88 L251.50,338.93 L251.75,338.91 L252.00,338.86 L252.25,338.98 L252.50,338.99 L252.75,338.92 L253.00,339.00 L253.25,338.99 L253.50,338.96 L253.75,338.99 L254.00,339.05 L254.25,339.01 L254.50,339.07 L254.75,339.01 L255.00,339.05 L255.25,339.09 L255.50,339.01 L255.75,339.09 L256.00,339.06 L256.25,339.11 L256.50,339.10 L256.75,339.11 L257.00,339.07 L257.25,339.08 L257.50,339.09 L257.75,339.12 L258.00,339.15 L258.25,339.13 L258.50,339.15 L258.75,339.15 L259.00,339.17 L259.25,339.17 L259.50,339.19 L259.75,339.19 L260.00,339.20 L260.25,339.20 L260.50,339.20 L260.75,339.20 L261.00,339.20 L261.25,339.20 L261.50,339.20 L261.75,339.20 L262.00,339.20 L262.25,339.20 L262.50,339.20 L262.75,339.20 L263.00,339.20 L263.25,339.20 L263.50,339.20 L263.75,339.20 L264.00,339.20 L264.25,339.20 L264.50,339.20 L264.75,339.20 L265.00,339.20 L265.25,339.20 L265.50,339.20 L265.75,339.20 L266.00,339.20 L266.25,339.20 L266.50,339.20 L266.75,339.20 L267.00,339.20 L267.25,339.20 L267.50,339.20 L267.75,339.20 L268.00,339.20 L268.25,339.20 L268.50,339.20 L268.75,339.20 L269.00,339.20 L269.25,339.20 L269.50,339.20 L269.75,339.20 L270.00,339.20 L270.25,339.20 L270.50,339.20 L270.75,339.20 L271.00,339.20 L271.25,339.20 L271.50,339.20 L271.75,339.20 L272.00,339.20 L272.25,339.20 L272.50,339.20 L272.75,339.20 L273.00,339.20 L273.25,339.20 L273.50,339.20 L273.75,339.20 L274.00,339.20 L274.25,339.20 L274.50,339.20 L274.75,339.20 L275.00,339.20 L275.25,339.20 L275.50,339.20 L275.75,339.20 L276.00,339.20 L276.25,339.20 L276.50,339.20 L276.75,339.20 L277.00,339.20 L277.25,339.20 L277.50,339.20 L277.75,339.20 L278.00,339.20 L278.25,339.20 L278.50,339.20 L278.75,339.20 L279.00,339.20 L279.25,339.20 L279.50,339.20 L279.75,339.20 L280.00,339.20 L280.25,339.20 L280.50,339.20 L280.75,339.20 L281.00,339.20 L281.25,339.20 L281.50,339.20 L281.75,339.20 L282.00,339.20 L282.25,339.20 L282.50,339.20 L282.75,339.20 L283.00,339.20 L283.25,339.20 L283.50,339.20 L283.75,339.20 L284.00,339.20 L284.25,339.20 L284.50,339.20 L284.75,339.20 L285.00,339.20 L285.25,339.20 L285.50,339.20 L285.75,339.20 L286.00,339.20 L286.25,339.20 L286.50,339.20 L286.75,339.20 L287.00,339.20 L287.25,339.20 L287.50,339.20 L287.75,339.20 L288.00,339.20 L288.25,339.20 L288.50,339.20 L288.75,339.20 L289.00,339.20 L289.25,339.20 L289.50,339.20 L289.75,339.20 L290.00,339.20 L290.25,339.20 L290.50,339.20 L290.75,339.20 L291.00,339.20 L291.25,339.20 L291.50,339.20 L291.75,339.20 L292.00,339.20 L292.25,339.20 L292.50,339.20 L292.75,339.20 L293.00,339.20 L293.25,339.20 L293.50,339.20 L293.75,339.20 L294.00,339.20 L294.25,339.20 L294.50,339.20 L294.75,339.20 L295.00,339.20 L295.25,339.20 L295.50,339.20 L295.75,339.20 L296.00,339.20 L296.25,339.20 L296.50,339.20 L296.75,339.20 L297.00,339.20 L297.25,339.20 L297.50,339.20 L297.75,339.20 L298.00,339.20 L298.25,339.20 L298.50,339.20 L298.75,339.20 L299.00,339.20 L299.25,339.20 L299.50,339.20 L299.75,339.20 L300.00,339.20 L300.25,339.20 L300.50,339.20 L300.75,339.20 L301.00,339.20 L301.25,339.20 L301.50,339.20 L301.75,339.20 L302.00,339.20 L302.25,339.20 L302.50,339.20 L302.75,339.20 L303.00,339.20 L303.25,339.20 L303.50,339.20 L303.75,339.20 L304.00,339.20 L304.25,339.20 L304.50,339.20 L304.75,339.20 L305.00,339.20 L305.25,339.20 L305.50,339.20 L305.75,339.20 L306.00,339.20 L306.25,339.20 L306.50,339.20 L306.75,339.20 L307.00,339.20 L307.25,339.20 L307.50,339.20 L307.75,339.20 L308.00,339.20 L308.25,339.20 L308.50,339.20 L308.75,339.20 L309.00,339.20 L309.25,339.20 L309.50,339.20 L309.75,339.20 L310.00,339.20 L310.25,339.20 L310.50,339.20 L310.75,339.20 L311.00,339.20 L311.25,339.20 L311.50,339.20 L311.75,339.20 L312.00,339.20 L312.25,339.20 L312.50,339.20 L312.75,339.20 L313.00,339.20 L313.25,339.20 L313.50,339.20 L313.75,339.20 L314.00,339.20 L314.25,339.20 L314.50,339.20 L314.75,339.20 L315.00,339.20 L315.25,339.20 L315.50,339.20 L315.75,339.20 L316.00,339.20 L316.25,339.20 L316.50,339.20 L316.75,339.20 L317.00,339.20 L317.25,339.20 L317.50,339.20 L317.75,339.20 L318.00,339.20 L318.25,339.20 L318.50,339.20 L318.75,339.20 L319.00,339.20 L319.25,339.20 L319.50,339.20 L319.75,339.20 L320.00,339.20 L320.25,339.20 L320.50,339.20 L320.75,339.20 L321.00,339.20 L321.25,339.20 L321.50,339.20 L321.75,339.20 L322.00,339.20 L322.25,339.20 L322.50,339.20 L322.75,339.20 L323.00,339.20 L323.25,339.20 L323.50,339.20 L323.75,339.20 L324.00,339.20 L324.25,339.20 L324.50,339.20 L324.75,339.20 L325.00,339.20 L325.25,339.20 L325.50,339.20 L325.75,339.20 L326.00,339.20 L326.25,339.20 L326.50,339.20 L326.75,339.20 L327.00,339.20 L327.25,339.20 L327.50,339.20 L327.75,339.20 L328.00,339.20 L328.25,339.20 L328.50,339.20 L328.75,339.20 L329.00,339.20 L329.25,339.20 L329.50,339.20 L329.75,339.20 L330.00,339.20 L330.25,339.20 L330.50,339.20 L330.75,339.20 L331.00,339.20 L331.25,339.20 L331.50,339.20 L331.75,339.20 L332.00,339.20 L332.25,339.20 L332.50,339.20 L332.75,339.20 L333.00,339.20 L333.25,339.20 L333.50,339.20 L333.75,339.20 L334.00,339.20 L334.25,339.20 L334.50,339.20 L334.75,339.20" fill="none" stroke="#a0a0a0" stroke-width="0.42" stroke-linejoin="round"/>
<path d="M201.50,337.54 L201.70,337.34 L201.90,337.35 L202.10,337.39 L202.30,337.41 L202.50,337.11 L202.70,337.13 L202.90,337.17 L203.10,337.21 L203.30,337.17 L203.50,337.08 L203.70,337.14 L203.90,337.06 L204.10,336.87 L204.30,337.12 L204.50,336.90 L204.70,336.79 L204.90,336.78 L205.10,336.90 L205.30,337.03 L205.50,336.85 L205.70,336.87 L205.90,336.64 L206.10,336.72 L206.30,336.88 L206.50,336.79 L206.70,336.83 L206.90,336.65 L207.10,336.66 L207.30,336.56 L207.50,336.48 L207.70,336.74 L207.90,336.68 L208.10,336.34 L208.30,336.22 L208.50,336.39 L208.70,336.44 L208.90,336.20 L209.10,336.41 L209.30,336.04 L209.50,336.05 L209.70,336.22 L209.90,336.09 L210.10,336.11 L210.30,336.06 L210.50,336.08 L210.70,335.58 L210.90,335.66 L211.10,335.89 L211.30,335.43 L211.50,335.91 L211.70,335.31 L211.90,335.77 L212.10,335.39 L212.30,335.73 L212.50,335.16 L212.70,335.41 L212.90,335.34 L213.10,334.91 L213.30,334.96 L213.50,334.70 L213.70,335.22 L213.90,335.02 L214.10,335.12 L214.30,334.37 L214.50,334.55 L214.70,334.76 L214.90,334.82 L215.10,334.38 L215.30,334.41 L215.50,334.10 L215.70,333.89 L215.90,334.22 L216.10,333.86 L216.30,334.36 L216.50,333.64 L216.70,334.00 L216.90,333.66 L217.10,333.60 L217.30,333.68 L217.50,333.55 L217.70,333.20 L217.90,333.62 L218.10,332.80 L218.30,333.04 L218.50,333.20 L218.70,333.13 L218.90,332.83 L219.10,332.71 L219.30,332.88 L219.50,332.56 L219.70,332.68 L219.90,332.66 L220.10,332.48 L220.30,332.24 L220.50,332.35 L220.70,332.50 L220.90,332.64 L221.10,332.37 L221.30,332.23 L221.50,332.22 L221.70,331.53 L221.90,331.96 L222.10,331.16 L222.30,331.93 L222.50,332.07 L222.70,331.54 L222.90,330.82 L223.10,331.15 L223.30,330.63 L223.50,330.74 L223.70,331.11 L223.90,329.96 L224.10,330.40 L224.30,329.81 L224.50,329.92 L224.70,329.29 L224.90,330.46 L225.10,330.28 L225.30,330.13 L225.50,329.61 L225.70,329.15 L225.90,329.11 L226.10,329.68 L226.30,328.60 L226.50,328.90 L226.70,327.72 L226.90,328.85 L227.10,328.81 L227.30,328.14 L227.50,327.48 L227.70,327.29 L227.90,328.35 L228.10,327.83 L228.30,327.22 L228.50,327.55 L228.70,327.53 L228.90,325.86 L229.10,327.09 L229.30,326.66 L229.50,325.35 L229.70,326.73 L229.90,326.56 L230.10,325.50 L230.30,325.75 L230.50,323.71 L230.70,324.33 L230.90,324.77 L231.10,325.32 L231.30,324.77 L231.50,323.56 L231.70,324.20 L231.90,322.98 L232.10,323.43 L232.30,321.17 L232.50,322.24 L232.70,322.63 L232.90,321.91 L233.10,319.80 L233.30,322.14 L233.50,319.51 L233.70,321.03 L233.90,319.34 L234.10,318.78 L234.30,317.58 L234.50,318.58 L234.70,318.63 L234.90,319.31 L235.10,318.79 L235.30,316.83 L235.50,316.42 L235.70,317.64 L235.90,315.58 L236.10,317.42 L236.30,317.20 L236.50,314.45 L236.70,316.48 L236.90,313.31 L237.10,314.67 L237.30,314.15 L237.50,312.37 L237.70,311.65 L237.90,313.12 L238.10,311.27 L238.30,310.95 L238.50,312.25 L238.70,310.54 L238.90,311.54 L239.10,310.38 L239.30,310.00 L239.50,308.85 L239.70,307.82 L239.90,307.54 L240.10,305.69 L240.30,307.96 L240.50,305.72 L240.70,304.19 L240.90,306.12 L241.10,304.28 L241.30,302.48 L241.50,304.02 L241.70,302.26 L241.90,302.76 L242.10,302.49 L242.30,299.18 L242.50,299.93 L242.70,297.83 L242.90,297.35 L243.10,297.53 L243.30,298.86 L243.50,296.75 L243.70,294.91 L243.90,296.92 L244.10,294.40 L244.30,295.66 L244.50,294.74 L244.70,293.00 L244.90,290.66 L245.10,289.81 L245.30,289.14 L245.50,288.01 L245.70,284.35 L245.90,285.44 L246.10,282.12 L246.30,282.35 L246.50,279.48 L246.70,280.71 L246.90,277.37 L247.10,277.89 L247.30,277.43 L247.50,273.67 L247.70,275.42 L247.90,273.20 L248.10,270.62 L248.30,269.77 L248.50,270.90 L248.70,267.56 L248.90,269.21 L249.10,266.33 L249.30,266.11 L249.50,265.38 L249.70,263.42 L249.90,261.64 L250.10,262.51 L250.30,260.35 L250.50,259.71 L250.70,255.05 L250.90,256.83 L251.10,255.47 L251.30,254.25 L251.50,250.48 L251.70,250.63 L251.90,249.47 L252.10,246.52 L252.30,245.21 L252.50,244.25 L252.70,244.37 L252.90,242.24 L253.10,242.26 L253.30,239.04 L253.50,237.65 L253.70,236.66 L253.90,233.55 L254.10,233.34 L254.30,231.70 L254.50,231.99 L254.70,229.06 L254.90,227.45 L255.10,227.68 L255.30,228.77 L255.50,226.58 L255.70,225.69 L255.75,224.60 L255.90,226.15 L256.10,228.27 L256.30,227.07 L256.50,227.99 L256.70,230.23 L256.90,229.92 L257.10,232.64 L257.30,232.30 L257.50,233.64 L257.70,236.34 L257.90,235.50 L258.10,237.62 L258.30,237.42 L258.50,240.50 L258.70,240.33 L258.90,242.70 L259.10,246.25 L259.30,246.43 L259.50,249.36 L259.70,252.23 L259.90,254.01 L260.10,254.59 L260.30,257.79 L260.50,256.99 L260.70,261.88 L260.90,262.81 L261.10,266.34 L261.30,266.21 L261.50,270.14 L261.70,272.94 L261.90,275.62 L262.10,276.08 L262.30,278.13 L262.50,280.91 L262.70,282.59 L262.90,285.98 L263.10,285.88 L263.30,289.02 L263.50,292.18 L263.70,291.82 L263.90,293.00 L264.10,296.33 L264.30,299.94 L264.50,302.35 L264.70,304.59 L264.90,305.46 L265.10,308.65 L265.30,310.21 L265.50,308.52 L265.70,309.97 L265.90,312.92 L266.10,312.37 L266.30,313.24 L266.50,314.38 L266.70,315.77 L266.90,315.93 L267.10,317.55 L267.30,317.15 L267.50,319.15 L267.70,320.85 L267.90,320.06 L268.10,319.17 L268.30,319.90 L268.50,321.55 L268.70,321.01 L268.90,323.81 L269.10,324.09 L269.30,324.74 L269.50,324.27 L269.70,325.05 L269.90,325.16 L270.10,325.21 L270.30,325.53 L270.50,325.91 L270.70,325.84 L270.90,325.91 L271.10,327.05 L271.30,328.21 L271.50,327.09 L271.70,328.57 L271.90,328.20 L272.10,328.17 L272.30,329.05 L272.50,328.92 L272.70,330.21 L272.90,330.33 L273.10,329.60 L273.30,330.90 L273.50,330.69 L273.70,331.58 L273.90,331.50 L274.10,331.63 L274.30,331.31 L274.50,331.72 L274.70,332.83 L274.90,332.51 L275.10,332.51 L275.30,332.98 L275.50,333.34 L275.70,334.04 L275.90,334.29 L276.10,334.08 L276.30,334.32 L276.50,334.97 L276.70,334.64 L276.90,335.06 L277.10,334.90 L277.30,335.27 L277.50,335.52 L277.70,335.69 L277.90,335.89 L278.10,336.22 L278.30,336.52 L278.50,336.78 L278.70,336.77 L278.90,337.03 L279.10,337.11 L279.30,337.40 L279.50,337.65 L279.70,337.83 L279.90,338.01 L280.10,338.12 L280.30,338.18 L280.50,338.32 L280.70,338.38 L280.90,338.53 L281.10,338.64 L281.30,338.69 L281.50,338.79 L281.70,338.93 L281.90,339.01 L282.10,339.12 L282.30,339.20 L282.50,339.20 L282.70,339.20 L282.90,339.20 L283.10,339.20 L283.30,339.20 L283.50,339.20 L283.70,339.20 L283.90,339.20 L284.10,339.20 L284.30,339.20 L284.50,339.20 L284.70,339.20 L284.90,339.20 L285.10,339.20 L285.30,339.20 L285.50,339.20 L285.70,339.20 L285.90,339.20 L286.10,339.20 L286.30,339.20 L286.50,339.20 L286.70,339.20 L286.90,339.20 L287.10,339.20 L287.30,339.20 L287.50,339.20 L287.70,339.20 L287.90,339.20 L288.10,339.20 L288.30,339.20 L288.50,339.20 L288.70,339.20 L288.90,339.20 L289.10,339.20 L289.30,339.20 L289.50,339.20 L289.70,339.20 L289.90,339.20 L290.10,339.20 L290.30,339.20 L290.50,339.20 L290.70,339.20 L290.90,339.20 L291.10,339.20 L291.30,339.20 L291.50,339.20 L291.70,339.20 L291.90,339.20 L292.10,339.20 L292.30,339.20 L292.50,339.20 L292.70,339.20 L292.90,339.20 L293.10,339.20 L293.30,339.20 L293.50,339.20 L293.70,339.20 L293.90,339.20 L294.10,339.20 L294.30,339.20 L294.50,339.20 L294.70,339.20 L294.90,339.20 L295.10,339.20 L295.30,339.20 L295.50,339.20 L295.70,339.20 L295.90,339.20 L296.10,339.20 L296.30,339.20 L296.50,339.20 L296.70,339.20 L296.90,339.20 L297.10,339.20 L297.30,339.20 L297.50,339.20 L297.70,339.20 L297.90,339.20 L298.10,339.20 L298.30,339.20 L298.50,339.20 L298.70,339.20 L298.90,339.20 L299.10,339.20 L299.30,339.20 L299.50,339.20 L299.70,339.20 L299.90,339.20 L300.10,339.20 L300.30,339.20 L300.50,339.20 L300.70,339.20 L300.90,339.20 L301.10,339.20 L301.30,339.20 L301.50,339.20 L301.70,339.20 L301.90,339.20 L302.10,339.20 L302.30,339.20 L302.50,339.20 L302.70,339.20 L302.90,339.20 L303.10,339.20 L303.30,339.20 L303.50,339.20 L303.70,339.20 L303.90,339.20 L304.10,339.20 L304.30,339.20 L304.50,339.20 L304.70,339.20 L304.90,339.20 L305.10,339.20 L305.30,339.20 L305.50,339.20 L305.70,339.20 L305.90,339.20 L306.10,339.20 L306.30,339.20 L306.50,339.20 L306.70,339.20 L306.90,339.20 L307.10,339.20 L307.30,339.20 L307.50,339.20 L307.70,339.20 L307.90,339.20 L308.10,339.20 L308.30,339.20 L308.50,339.20 L308.70,339.20 L308.90,339.20 L309.10,339.20 L309.30,339.20 L309.50,339.20 L309.70,339.20 L309.90,339.20 L310.10,339.20 L310.30,339.20 L310.50,339.20 L310.70,339.20 L310.90,339.20 L311.10,339.20 L311.30,339.20 L311.50,339.20 L311.70,339.20 L311.90,339.20 L312.10,339.20 L312.30,339.20 L312.50,339.20 L312.70,339.20 L312.90,339.20 L313.10,339.20 L313.30,339.20 L313.50,339.20 L313.70,339.20 L313.90,339.20 L314.10,339.20 L314.30,339.20 L314.50,339.20 L314.70,339.20 L314.90,339.20 L315.10,339.20 L315.30,339.20 L315.50,339.20 L315.70,339.20 L315.90,339.20 L316.10,339.20 L316.30,339.20 L316.50,339.20 L316.70,339.20 L316.90,339.20 L317.10,339.20 L317.30,339.20 L317.50,339.20 L317.70,339.20 L317.90,339.20 L318.10,339.20 L318.30,339.20 L318.50,339.20 L318.70,339.20 L318.90,339.20 L319.10,339.20 L319.30,339.20 L319.50,339.20 L319.70,339.20 L319.90,339.20 L320.10,339.20 L320.30,339.20 L320.50,339.20 L320.70,339.20 L320.90,339.20 L321.10,339.20 L321.30,339.20 L321.50,339.20 L321.70,339.20 L321.90,339.20 L322.10,339.20 L322.30,339.20 L322.50,339.20 L322.70,339.20 L322.90,339.20 L323.10,339.20 L323.30,339.20 L323.50,339.20 L323.70,339.20 L323.90,339.20 L324.10,339.20 L324.30,339.20 L324.50,339.20 L324.70,339.20 L324.90,339.20 L325.10,339.20 L325.30,339.20 L325.50,339.20 L325.70,339.20 L325.90,339.20 L326.10,339.20 L326.30,339.20 L326.50,339.20 L326.70,339.20 L326.90,339.20 L327.10,339.20 L327.30,339.20 L327.50,339.20 L327.70,339.20 L327.90,339.20 L328.10,339.20 L328.30,339.20 L328.50,339.20 L328.70,339.20 L328.90,339.20 L329.10,339.20 L329.30,339.20 L329.50,339.20 L329.70,339.20 L329.90,339.20 L330.10,339.20 L330.30,339.20 L330.50,339.20 L330.70,339.20 L330.90,339.20 L331.10,339.20 L331.30,339.20 L331.50,339.20 L331.70,339.20 L331.90,339.20 L332.10,339.20 L332.30,339.20 L332.50,339.20 L332.70,339.20 L332.90,339.20 L333.10,339.20 L333.30,339.20 L333.50,339.20 L333.70,339.20 L333.90,339.20 L334.10,339.20 L334.30,339.20 L334.50,339.20 L334.70,339.20 L334.90,339.20" fill="none" stroke="#505050" stroke-width="0.65" stroke-linejoin="round"/>
<rect x="200.80" y="222.00" width="134.20" height="117.80" fill="none" stroke="#949494" stroke-width="1.5"/>
<text x="173.0" y="203.6" font-size="24.5" font-weight="bold" fill="#000">D</text>
<text transform="translate(196.60,339.50) rotate(-90)" font-size="9.0" text-anchor="middle" fill="#1e1e1e" stroke="#1e1e1e" stroke-width="0.3">0</text>
<text transform="translate(196.60,315.90) rotate(-90)" font-size="9.0" text-anchor="middle" fill="#1e1e1e" stroke="#1e1e1e" stroke-width="0.3">80</text>
<text transform="translate(196.60,292.30) rotate(-90)" font-size="9.0" text-anchor="middle" fill="#1e1e1e" stroke="#1e1e1e" stroke-width="0.3">160</text>
<text transform="translate(196.60,268.70) rotate(-90)" font-size="9.0" text-anchor="middle" fill="#1e1e1e" stroke="#1e1e1e" stroke-width="0.3">240</text>
<text transform="translate(196.60,245.10) rotate(-90)" font-size="9.0" text-anchor="middle" fill="#1e1e1e" stroke="#1e1e1e" stroke-width="0.3">320</text>
<text transform="translate(196.60,221.50) rotate(-90)" font-size="9.0" text-anchor="middle" fill="#1e1e1e" stroke="#1e1e1e" stroke-width="0.3">400</text>
<text transform="translate(185.00,280.70) rotate(-90)" font-size="10.3" text-anchor="middle" fill="#1e1e1e" stroke="#1e1e1e" stroke-width="0.3">Counts</text>
<text x="199.30" y="353.60" font-size="9.0" text-anchor="middle" fill="#1e1e1e" stroke="#1e1e1e" stroke-width="0.3">10<tspan dy="-3.4">0</tspan></text>
<text x="233.40" y="353.60" font-size="9.0" text-anchor="middle" fill="#1e1e1e" stroke="#1e1e1e" stroke-width="0.3">10<tspan dy="-3.4">1</tspan></text>
<text x="266.50" y="353.60" font-size="9.0" text-anchor="middle" fill="#1e1e1e" stroke="#1e1e1e" stroke-width="0.3">10<tspan dy="-3.4">2</tspan></text>
<text x="299.60" y="353.60" font-size="9.0" text-anchor="middle" fill="#1e1e1e" stroke="#1e1e1e" stroke-width="0.3">10<tspan dy="-3.4">3</tspan></text>
<text x="332.80" y="353.60" font-size="9.0" text-anchor="middle" fill="#1e1e1e" stroke="#1e1e1e" stroke-width="0.3">10<tspan dy="-3.4">4</tspan></text>
<text x="266.25" y="364.20" font-size="9.4" text-anchor="middle" fill="#1e1e1e" stroke="#1e1e1e" stroke-width="0.3">FL2-Height</text>
<path d="M375.60,323.97 L375.85,322.67 L376.10,323.01 L376.35,321.74 L376.60,325.95 L376.85,317.61 L377.10,317.08 L377.35,317.03 L377.60,322.38 L377.85,312.99 L378.10,315.79 L378.35,312.96 L378.60,313.98 L378.85,317.45 L379.10,308.76 L379.35,314.35 L379.60,306.12 L379.85,305.45 L380.10,310.56 L380.35,311.94 L380.60,307.24 L380.85,310.96 L381.10,309.43 L381.35,305.48 L381.60,299.02 L381.85,301.11 L382.10,300.85 L382.35,296.62 L382.60,297.12 L382.85,303.09 L383.10,301.47 L383.35,297.62 L383.60,290.87 L383.85,292.77 L384.10,289.16 L384.35,294.03 L384.60,288.28 L384.85,289.29 L385.10,287.93 L385.35,288.52 L385.60,288.65 L385.85,287.17 L386.10,279.41 L386.35,278.28 L386.60,281.40 L386.85,277.76 L387.10,271.81 L387.35,275.59 L387.60,272.22 L387.85,276.84 L388.10,273.98 L388.35,264.00 L388.60,266.72 L388.85,266.74 L389.10,259.11 L389.35,260.33 L389.60,264.62 L389.85,257.46 L390.10,254.47 L390.35,254.12 L390.60,260.30 L390.85,252.61 L391.10,250.94 L391.35,258.43 L391.60,251.96 L391.85,247.04 L392.10,253.13 L392.35,250.35 L392.60,245.68 L392.85,246.36 L393.10,243.22 L393.35,236.87 L393.60,236.71 L393.85,243.75 L394.10,241.66 L394.35,238.98 L394.60,239.79 L394.85,238.81 L395.10,238.78 L395.35,236.96 L395.50,229.50 L395.60,237.67 L395.85,232.16 L396.10,230.16 L396.35,235.72 L396.60,239.84 L396.85,236.12 L397.10,238.17 L397.35,237.06 L397.60,242.53 L397.85,239.86 L398.10,246.96 L398.35,245.91 L398.60,250.63 L398.85,250.92 L399.10,247.97 L399.35,250.51 L399.60,257.35 L399.85,256.09 L400.10,262.22 L400.35,261.47 L400.60,261.40 L400.85,270.05 L401.10,266.52 L401.35,274.52 L401.60,277.13 L401.85,272.77 L402.10,270.72 L402.35,282.31 L402.60,278.84 L402.85,277.95 L403.10,280.12 L403.35,287.45 L403.60,290.43 L403.85,290.74 L404.10,291.62 L404.35,296.20 L404.60,290.58 L404.85,296.81 L405.10,303.80 L405.35,304.63 L405.60,303.47 L405.85,301.49 L406.10,309.43 L406.35,309.00 L406.60,316.03 L406.85,314.14 L407.10,318.08 L407.35,322.27 L407.60,318.93 L407.85,325.72 L408.10,320.71 L408.35,321.84 L408.60,322.02 L408.85,326.91 L409.10,325.71 L409.35,324.70 L409.60,325.73 L409.85,329.92 L410.10,325.38 L410.35,330.44 L410.60,327.06 L410.85,330.50 L411.10,330.40 L411.35,327.62 L411.60,329.40 L411.85,332.24 L412.10,332.31 L412.35,333.60 L412.60,332.75 L412.85,332.96 L413.10,333.80 L413.35,334.05 L413.60,333.77 L413.85,333.35 L414.10,334.00 L414.35,333.90 L414.60,334.65 L414.85,336.09 L415.10,336.08 L415.35,335.90 L415.60,336.04 L415.85,336.53 L416.10,336.75 L416.35,335.93 L416.60,336.25 L416.85,337.00 L417.10,336.23 L417.35,337.47 L417.60,337.36 L417.85,337.21 L418.10,337.90 L418.35,337.84 L418.60,337.12 L418.85,337.67 L419.10,337.96 L419.35,337.44 L419.60,337.47 L419.85,337.44 L420.10,337.90 L420.35,337.95 L420.60,338.05 L420.85,337.70 L421.10,337.76 L421.35,338.12 L421.60,338.05 L421.85,337.85 L422.10,338.16 L422.35,338.24 L422.60,338.06 L422.85,338.46 L423.10,338.48 L423.35,338.35 L423.60,338.18 L423.85,338.31 L424.10,338.29 L424.35,338.67 L424.60,338.50 L424.85,338.44 L425.10,338.45 L425.35,338.69 L425.60,338.66 L425.85,338.47 L426.10,338.72 L426.35,338.75 L426.60,338.51 L426.85,338.67 L427.10,338.54 L427.35,338.79 L427.60,338.81 L427.85,338.65 L428.10,338.56 L428.35,338.59 L428.60,338.66 L428.85,338.76 L429.10,338.64 L429.35,338.80 L429.60,338.65 L429.85,338.83 L430.10,338.67 L430.35,338.62 L430.60,338.67 L430.85,338.76 L431.10,338.75 L431.35,338.75 L431.60,338.69 L431.85,338.70 L432.10,338.78 L432.35,338.71 L432.60,338.72 L432.85,338.87 L433.10,338.89 L433.35,338.79 L433.60,338.88 L433.85,338.90 L434.10,338.90 L434.35,338.87 L434.60,338.89 L434.85,338.94 L435.10,338.81 L435.35,338.87 L435.60,338.88 L435.85,338.95 L436.10,338.95 L436.35,338.83 L436.60,338.94 L436.85,338.96 L437.10,338.98 L437.35,338.92 L437.60,338.89 L437.85,338.93 L438.10,338.97 L438.35,338.94 L438.60,339.01 L438.85,338.91 L439.10,338.98 L439.35,338.99 L439.60,338.95 L439.85,339.05 L440.10,338.98 L440.35,339.03 L440.60,339.01 L440.85,338.96 L441.10,338.98 L441.35,339.04 L441.60,338.97 L441.85,338.98 L442.10,339.04 L442.35,338.98 L442.60,338.99 L442.85,339.01 L443.10,339.01 L443.35,339.00 L443.60,339.02 L443.85,339.05 L444.10,339.06 L444.35,338.98 L444.60,339.07 L444.85,339.01 L445.10,339.04 L445.35,339.03 L445.60,339.02 L445.85,339.01 L446.10,339.01 L446.35,339.05 L446.60,339.01 L446.85,339.04 L447.10,339.04 L447.35,339.02 L447.60,339.05 L447.85,339.04 L448.10,338.99 L448.35,339.02 L448.60,339.06 L448.85,339.05 L449.10,339.05 L449.35,339.07 L449.60,339.05 L449.85,339.06 L450.10,339.08 L450.35,339.00 L450.60,339.07 L450.85,339.05 L451.10,339.02 L451.35,339.03 L451.60,339.05 L451.85,339.05 L452.10,339.01 L452.35,339.02 L452.60,339.04 L452.85,339.03 L453.10,339.06 L453.35,339.03 L453.60,339.05 L453.85,339.04 L454.10,339.07 L454.35,339.09 L454.60,339.04 L454.85,339.09 L455.10,339.08 L455.35,339.05 L455.60,339.03 L455.85,339.09 L456.10,339.07 L456.35,339.10 L456.60,339.03 L456.85,339.07 L457.10,339.06 L457.35,339.07 L457.60,339.06 L457.85,339.04 L458.10,339.07 L458.35,339.10 L458.60,339.08 L458.85,339.10 L459.10,339.07 L459.35,339.04 L459.60,339.07 L459.85,339.06 L460.10,339.06 L460.35,339.08 L460.60,339.08 L460.85,339.09 L461.10,339.09 L461.35,339.06 L461.60,339.06 L461.85,339.08 L462.10,339.08 L462.35,339.09 L462.60,339.08 L462.85,339.07 L463.10,339.10 L463.35,339.12 L463.60,339.10 L463.85,339.11 L464.10,339.08 L464.35,339.10 L464.60,339.11 L464.85,339.12 L465.10,339.08 L465.35,339.08 L465.60,339.09 L465.85,339.13 L466.10,339.10 L466.35,339.09 L466.60,339.08 L466.85,339.10 L467.10,339.12 L467.35,339.09 L467.60,339.08 L467.85,339.11 L468.10,339.11 L468.35,339.13 L468.60,339.11 L468.85,339.10 L469.10,339.09 L469.35,339.10 L469.60,339.11 L469.85,339.14 L470.10,339.11 L470.35,339.13 L470.60,339.10 L470.85,339.10 L471.10,339.11 L471.35,339.11 L471.60,339.11 L471.85,339.11 L472.10,339.13 L472.35,339.13 L472.60,339.14 L472.85,339.15 L473.10,339.11 L473.35,339.14 L473.60,339.15 L473.85,339.12 L474.10,339.12 L474.35,339.13 L474.60,339.12 L474.85,339.14 L475.10,339.14 L475.35,339.12 L475.60,339.12 L475.85,339.15 L476.10,339.13 L476.35,339.15 L476.60,339.15 L476.85,339.13 L477.10,339.15 L477.35,339.13 L477.60,339.15 L477.85,339.14 L478.10,339.14 L478.35,339.16 L478.60,339.15 L478.85,339.14 L479.10,339.15 L479.35,339.16 L479.60,339.14 L479.85,339.14 L480.10,339.14 L480.35,339.16 L480.60,339.16 L480.85,339.16 L481.10,339.16 L481.35,339.16 L481.60,339.16 L481.85,339.16 L482.10,339.16 L482.35,339.17 L482.60,339.17 L482.85,339.16 L483.10,339.18 L483.35,339.17 L483.60,339.16 L483.85,339.17 L484.10,339.16 L484.35,339.17 L484.60,339.17 L484.85,339.17 L485.10,339.18 L485.35,339.17 L485.60,339.18 L485.85,339.17 L486.10,339.17 L486.35,339.18 L486.60,339.18 L486.85,339.18 L487.10,339.18 L487.35,339.18 L487.60,339.18 L487.85,339.18 L488.10,339.18 L488.35,339.18 L488.60,339.19 L488.85,339.19 L489.10,339.19 L489.35,339.19 L489.60,339.19 L489.85,339.19 L490.10,339.19 L490.35,339.20 L490.60,339.19 L490.85,339.20 L491.10,339.20 L491.35,339.20 L491.60,339.20 L491.85,339.20 L492.10,339.20 L492.35,339.20 L492.60,339.20 L492.85,339.20 L493.10,339.20 L493.35,339.20 L493.60,339.20 L493.85,339.20 L494.10,339.20 L494.35,339.20 L494.60,339.20 L494.85,339.20 L495.10,339.20 L495.35,339.20 L495.60,339.20 L495.85,339.20 L496.10,339.20 L496.35,339.20 L496.60,339.20 L496.85,339.20 L497.10,339.20 L497.35,339.20 L497.60,339.20 L497.85,339.20 L498.10,339.20 L498.35,339.20 L498.60,339.20 L498.85,339.20 L499.10,339.20 L499.35,339.20 L499.60,339.20 L499.85,339.20 L500.10,339.20 L500.35,339.20 L500.60,339.20 L500.85,339.20 L501.10,339.20 L501.35,339.20 L501.60,339.20 L501.85,339.20 L502.10,339.20 L502.35,339.20 L502.60,339.20 L502.85,339.20 L503.10,339.20 L503.35,339.20 L503.60,339.20 L503.85,339.20 L504.10,339.20 L504.35,339.20 L504.60,339.20 L504.85,339.20 L505.10,339.20 L505.35,339.20 L505.60,339.20 L505.85,339.20 L506.10,339.20 L506.35,339.20 L506.60,339.20 L506.85,339.20 L507.10,339.20 L507.35,339.20 L507.60,339.20 L507.85,339.20 L508.10,339.20 L508.35,339.20 L508.60,339.20 L508.85,339.20 L509.10,339.20 L509.35,339.20 L509.60,339.20 L509.85,339.20 L510.10,339.20 L510.35,339.20 L510.60,339.20 L510.85,339.20 L511.10,339.20 L511.35,339.20 L511.60,339.20 L511.85,339.20 L512.10,339.20 L512.35,339.20 L512.60,339.20 L512.85,339.20 L513.10,339.20 L513.35,339.20 L513.60,339.20 L513.85,339.20 L514.10,339.20 L514.35,339.20 L514.60,339.20 L514.85,339.20 L515.10,339.20 L515.35,339.20 L515.60,339.20 L515.85,339.20 L516.10,339.20 L516.35,339.20 L516.60,339.20 L516.85,339.20 L517.10,339.20 L517.35,339.20 L517.60,339.20 L517.85,339.20" fill="none" stroke="#a0a0a0" stroke-width="0.42" stroke-linejoin="round"/>
<path d="M375.60,339.20 L375.80,339.20 L376.00,339.20 L376.20,339.20 L376.40,339.20 L376.60,339.20 L376.80,339.20 L377.00,339.18 L377.20,339.16 L377.40,339.14 L377.60,339.11 L377.80,339.08 L378.00,339.05 L378.20,339.03 L378.40,338.99 L378.60,339.00 L378.80,338.95 L379.00,338.89 L379.20,338.94 L379.40,338.85 L379.60,338.81 L379.80,338.83 L380.00,338.84 L380.20,338.71 L380.40,338.79 L380.60,338.74 L380.80,338.62 L381.00,338.62 L381.20,338.57 L381.40,338.52 L381.60,338.60 L381.80,338.58 L382.00,338.49 L382.20,338.48 L382.40,338.45 L382.60,338.36 L382.80,338.39 L383.00,338.45 L383.20,338.50 L383.40,338.35 L383.60,338.31 L383.80,338.33 L384.00,338.29 L384.20,338.23 L384.40,338.25 L384.60,338.32 L384.80,338.15 L385.00,338.16 L385.20,338.32 L385.40,338.25 L385.60,338.03 L385.80,338.21 L386.00,338.00 L386.20,338.17 L386.40,337.90 L386.60,338.04 L386.80,337.80 L387.00,337.80 L387.20,337.86 L387.40,337.95 L387.60,337.66 L387.80,337.77 L388.00,337.62 L388.20,337.72 L388.40,337.85 L388.60,337.65 L388.80,337.57 L389.00,337.57 L389.20,337.50 L389.40,337.82 L389.60,337.84 L389.80,337.41 L390.00,337.72 L390.20,337.73 L390.40,337.47 L390.60,337.63 L390.80,337.45 L391.00,337.41 L391.20,337.68 L391.40,337.34 L391.60,337.63 L391.80,337.43 L392.00,337.24 L392.20,337.48 L392.40,336.93 L392.60,337.34 L392.80,337.39 L393.00,337.28 L393.20,337.24 L393.40,337.08 L393.60,336.49 L393.80,336.75 L394.00,336.96 L394.20,336.78 L394.40,336.34 L394.60,336.96 L394.80,336.94 L395.00,336.46 L395.20,336.72 L395.40,336.26 L395.60,336.52 L395.80,336.09 L396.00,336.56 L396.20,335.76 L396.40,336.14 L396.60,336.21 L396.80,336.03 L397.00,336.05 L397.20,336.03 L397.40,335.49 L397.60,336.25 L397.80,335.06 L398.00,335.40 L398.20,336.02 L398.40,335.34 L398.60,335.85 L398.80,335.45 L399.00,334.78 L399.20,335.22 L399.40,334.82 L399.60,335.00 L399.80,334.36 L400.00,334.34 L400.20,334.98 L400.40,334.22 L400.60,333.98 L400.80,334.59 L401.00,335.01 L401.20,334.42 L401.40,333.78 L401.60,334.55 L401.80,334.44 L402.00,333.78 L402.20,334.14 L402.40,333.58 L402.60,332.73 L402.80,332.92 L403.00,333.32 L403.20,333.51 L403.40,333.45 L403.60,333.45 L403.80,333.10 L404.00,332.14 L404.20,332.63 L404.40,332.01 L404.60,331.36 L404.80,331.30 L405.00,332.96 L405.20,332.02 L405.40,332.02 L405.60,330.34 L405.80,331.86 L406.00,330.54 L406.20,331.12 L406.40,330.45 L406.60,329.04 L406.80,330.93 L407.00,328.16 L407.20,327.33 L407.40,328.68 L407.60,329.97 L407.80,326.98 L408.00,327.59 L408.20,325.71 L408.40,327.54 L408.60,326.51 L408.80,326.28 L409.00,323.44 L409.20,324.31 L409.40,321.31 L409.60,321.27 L409.80,321.85 L410.00,320.58 L410.20,321.35 L410.40,318.17 L410.60,320.84 L410.80,318.32 L411.00,320.21 L411.20,318.26 L411.40,319.92 L411.60,318.39 L411.80,314.01 L412.00,316.32 L412.20,311.51 L412.40,312.55 L412.60,315.66 L412.80,312.13 L413.00,311.34 L413.20,310.23 L413.40,309.35 L413.60,309.20 L413.80,306.53 L414.00,309.80 L414.20,309.66 L414.40,304.99 L414.60,308.56 L414.80,303.63 L415.00,301.80 L415.20,305.25 L415.40,299.27 L415.60,302.33 L415.80,297.77 L416.00,300.61 L416.20,301.10 L416.40,296.40 L416.60,297.13 L416.80,298.08 L417.00,297.16 L417.20,296.91 L417.40,294.02 L417.60,290.81 L417.80,292.32 L418.00,291.46 L418.20,286.16 L418.40,286.70 L418.60,286.99 L418.80,284.60 L419.00,283.65 L419.20,284.07 L419.40,282.03 L419.60,282.79 L419.80,283.82 L420.00,280.52 L420.20,283.12 L420.40,280.18 L420.60,276.49 L420.80,279.73 L421.00,276.96 L421.20,277.32 L421.40,272.28 L421.60,272.51 L421.80,273.75 L422.00,271.70 L422.20,273.50 L422.40,269.63 L422.60,269.34 L422.80,264.74 L423.00,267.06 L423.20,265.75 L423.40,264.84 L423.60,262.07 L423.80,261.78 L424.00,255.42 L424.20,260.06 L424.40,255.27 L424.60,251.77 L424.80,253.73 L425.00,253.76 L425.20,249.62 L425.40,250.61 L425.60,251.01 L425.80,245.78 L426.00,245.87 L426.20,243.23 L426.40,248.22 L426.60,241.51 L426.80,244.98 L427.00,242.32 L427.20,242.28 L427.40,237.77 L427.60,240.83 L427.80,235.50 L428.00,235.24 L428.20,236.08 L428.40,232.36 L428.40,231.00 L428.60,232.44 L428.80,238.33 L429.00,233.06 L429.20,236.83 L429.40,235.93 L429.60,235.70 L429.80,234.57 L430.00,238.10 L430.20,235.95 L430.40,234.38 L430.60,235.52 L430.80,233.22 L431.00,233.79 L431.20,233.55 L431.40,233.91 L431.60,230.21 L431.75,228.60 L431.80,234.15 L432.00,231.56 L432.20,233.80 L432.40,237.66 L432.60,235.84 L432.80,237.35 L433.00,238.66 L433.20,241.75 L433.40,238.95 L433.60,242.71 L433.80,246.09 L434.00,243.92 L434.20,245.23 L434.40,249.31 L434.60,248.66 L434.80,252.11 L435.00,253.19 L435.20,256.11 L435.40,258.54 L435.60,258.79 L435.80,262.02 L436.00,264.76 L436.20,261.79 L436.40,264.65 L436.60,272.04 L436.80,269.70 L437.00,276.23 L437.20,280.22 L437.40,281.08 L437.60,282.71 L437.80,286.45 L438.00,283.59 L438.20,289.52 L438.40,290.51 L438.60,293.37 L438.80,291.86 L439.00,297.33 L439.20,301.16 L439.40,299.94 L439.60,304.47 L439.80,308.30 L440.00,311.21 L440.20,314.04 L440.40,314.05 L440.60,317.58 L440.80,317.48 L441.00,321.25 L441.20,320.23 L441.40,321.51 L441.60,323.21 L441.80,326.01 L442.00,326.01 L442.20,328.11 L442.40,328.66 L442.60,327.00 L442.80,329.30 L443.00,331.37 L443.20,329.73 L443.40,332.12 L443.60,332.27 L443.80,331.95 L444.00,332.83 L444.20,333.30 L444.40,333.24 L444.60,333.76 L444.80,334.49 L445.00,335.72 L445.20,336.11 L445.40,335.80 L445.60,336.40 L445.80,336.31 L446.00,337.08 L446.20,336.64 L446.40,337.48 L446.60,337.27 L446.80,337.85 L447.00,337.84 L447.20,338.27 L447.40,338.58 L447.60,338.56 L447.80,338.62 L448.00,338.83 L448.20,338.78 L448.40,338.87 L448.60,338.92 L448.80,338.99 L449.00,339.09 L449.20,339.15 L449.40,339.20 L449.60,339.20 L449.80,339.20 L450.00,339.20 L450.20,339.20 L450.40,339.20 L450.60,339.20 L450.80,339.20 L451.00,339.20 L451.20,339.20 L451.40,339.20 L451.60,339.20 L451.80,339.20 L452.00,339.20 L452.20,339.20 L452.40,339.20 L452.60,339.20 L452.80,339.20 L453.00,339.20 L453.20,339.20 L453.40,339.20 L453.60,339.20 L453.80,339.20 L454.00,339.20 L454.20,339.20 L454.40,339.20 L454.60,339.20 L454.80,339.20 L455.00,339.20 L455.20,339.20 L455.40,339.20 L455.60,339.20 L455.80,339.20 L456.00,339.20 L456.20,339.20 L456.40,339.20 L456.60,339.20 L456.80,339.20 L457.00,339.20 L457.20,339.20 L457.40,339.20 L457.60,339.20 L457.80,339.20 L458.00,339.20 L458.20,339.20 L458.40,339.20 L458.60,339.20 L458.80,339.20 L459.00,339.20 L459.20,339.20 L459.40,339.20 L459.60,339.20 L459.80,339.20 L460.00,339.20 L460.20,339.20 L460.40,339.20 L460.60,339.20 L460.80,339.20 L461.00,339.20 L461.20,339.20 L461.40,339.20 L461.60,339.20 L461.80,339.20 L462.00,339.20 L462.20,339.20 L462.40,339.20 L462.60,339.20 L462.80,339.20 L463.00,339.20 L463.20,339.20 L463.40,339.20 L463.60,339.20 L463.80,339.20 L464.00,339.20 L464.20,339.20 L464.40,339.20 L464.60,339.20 L464.80,339.20 L465.00,339.20 L465.20,339.20 L465.40,339.20 L465.60,339.20 L465.80,339.20 L466.00,339.20 L466.20,339.20 L466.40,339.20 L466.60,339.20 L466.80,339.20 L467.00,339.20 L467.20,339.20 L467.40,339.20 L467.60,339.20 L467.80,339.20 L468.00,339.20 L468.20,339.20 L468.40,339.20 L468.60,339.20 L468.80,339.20 L469.00,339.20 L469.20,339.20 L469.40,339.20 L469.60,339.20 L469.80,339.20 L470.00,339.20 L470.20,339.20 L470.40,339.20 L470.60,339.20 L470.80,339.20 L471.00,339.20 L471.20,339.20 L471.40,339.20 L471.60,339.20 L471.80,339.20 L472.00,339.20 L472.20,339.20 L472.40,339.20 L472.60,339.20 L472.80,339.20 L473.00,339.20 L473.20,339.20 L473.40,339.20 L473.60,339.20 L473.80,339.20 L474.00,339.20 L474.20,339.20 L474.40,339.20 L474.60,339.20 L474.80,339.20 L475.00,339.20 L475.20,339.20 L475.40,339.20 L475.60,339.20 L475.80,339.20 L476.00,339.20 L476.20,339.20 L476.40,339.20 L476.60,339.20 L476.80,339.20 L477.00,339.20 L477.20,339.20 L477.40,339.20 L477.60,339.20 L477.80,339.20 L478.00,339.20 L478.20,339.20 L478.40,339.20 L478.60,339.20 L478.80,339.20 L479.00,339.20 L479.20,339.20 L479.40,339.20 L479.60,339.20 L479.80,339.20 L480.00,339.20 L480.20,339.20 L480.40,339.20 L480.60,339.20 L480.80,339.20 L481.00,339.20 L481.20,339.20 L481.40,339.20 L481.60,339.20 L481.80,339.20 L482.00,339.20 L482.20,339.20 L482.40,339.20 L482.60,339.20 L482.80,339.20 L483.00,339.20 L483.20,339.20 L483.40,339.20 L483.60,339.20 L483.80,339.20 L484.00,339.20 L484.20,339.20 L484.40,339.20 L484.60,339.20 L484.80,339.20 L485.00,339.20 L485.20,339.20 L485.40,339.20 L485.60,339.20 L485.80,339.20 L486.00,339.20 L486.20,339.20 L486.40,339.20 L486.60,339.20 L486.80,339.20 L487.00,339.20 L487.20,339.20 L487.40,339.20 L487.60,339.20 L487.80,339.20 L488.00,339.20 L488.20,339.20 L488.40,339.20 L488.60,339.20 L488.80,339.20 L489.00,339.20 L489.20,339.20 L489.40,339.20 L489.60,339.20 L489.80,339.20 L490.00,339.20 L490.20,339.20 L490.40,339.20 L490.60,339.20 L490.80,339.20 L491.00,339.20 L491.20,339.20 L491.40,339.20 L491.60,339.20 L491.80,339.20 L492.00,339.20 L492.20,339.20 L492.40,339.20 L492.60,339.20 L492.80,339.20 L493.00,339.20 L493.20,339.20 L493.40,339.20 L493.60,339.20 L493.80,339.20 L494.00,339.20 L494.20,339.20 L494.40,339.20 L494.60,339.20 L494.80,339.20 L495.00,339.20 L495.20,339.20 L495.40,339.20 L495.60,339.20 L495.80,339.20 L496.00,339.20 L496.20,339.20 L496.40,339.20 L496.60,339.20 L496.80,339.20 L497.00,339.20 L497.20,339.20 L497.40,339.20 L497.60,339.20 L497.80,339.20 L498.00,339.20 L498.20,339.20 L498.40,339.20 L498.60,339.20 L498.80,339.20 L499.00,339.20 L499.20,339.20 L499.40,339.20 L499.60,339.20 L499.80,339.20 L500.00,339.20 L500.20,339.20 L500.40,339.20 L500.60,339.20 L500.80,339.20 L501.00,339.20 L501.20,339.20 L501.40,339.20 L501.60,339.20 L501.80,339.20 L502.00,339.20 L502.20,339.20 L502.40,339.20 L502.60,339.20 L502.80,339.20 L503.00,339.20 L503.20,339.20 L503.40,339.20 L503.60,339.20 L503.80,339.20 L504.00,339.20 L504.20,339.20 L504.40,339.20 L504.60,339.20 L504.80,339.20 L505.00,339.20 L505.20,339.20 L505.40,339.20 L505.60,339.20 L505.80,339.20 L506.00,339.20 L506.20,339.20 L506.40,339.20 L506.60,339.20 L506.80,339.20 L507.00,339.20 L507.20,339.20 L507.40,339.20 L507.60,339.20 L507.80,339.20 L508.00,339.20 L508.20,339.20 L508.40,339.20 L508.60,339.20 L508.80,339.20 L509.00,339.20 L509.20,339.20 L509.40,339.20 L509.60,339.20 L509.80,339.20 L510.00,339.20 L510.20,339.20 L510.40,339.20 L510.60,339.20 L510.80,339.20 L511.00,339.20 L511.20,339.20 L511.40,339.20 L511.60,339.20 L511.80,339.20 L512.00,339.20 L512.20,339.20 L512.40,339.20 L512.60,339.20 L512.80,339.20 L513.00,339.20 L513.20,339.20 L513.40,339.20 L513.60,339.20 L513.80,339.20 L514.00,339.20 L514.20,339.20 L514.40,339.20 L514.60,339.20 L514.80,339.20 L515.00,339.20 L515.20,339.20 L515.40,339.20 L515.60,339.20 L515.80,339.20 L516.00,339.20 L516.20,339.20 L516.40,339.20 L516.60,339.20 L516.80,339.20 L517.00,339.20 L517.20,339.20 L517.40,339.20 L517.60,339.20 L517.80,339.20" fill="none" stroke="#424242" stroke-width="0.65" stroke-linejoin="round"/>
<rect x="375.60" y="219.40" width="142.40" height="120.40" fill="none" stroke="#949494" stroke-width="1.5"/>
<text x="348.0" y="204.0" font-size="25" font-weight="bold" fill="#000">E</text>
<text transform="translate(372.60,339.50) rotate(-90)" font-size="9.0" text-anchor="middle" fill="#1e1e1e" stroke="#1e1e1e" stroke-width="0.3">0</text>
<text transform="translate(372.60,315.86) rotate(-90)" font-size="9.0" text-anchor="middle" fill="#1e1e1e" stroke="#1e1e1e" stroke-width="0.3">80</text>
<text transform="translate(372.60,292.22) rotate(-90)" font-size="9.0" text-anchor="middle" fill="#1e1e1e" stroke="#1e1e1e" stroke-width="0.3">160</text>
<text transform="translate(372.60,268.58) rotate(-90)" font-size="9.0" text-anchor="middle" fill="#1e1e1e" stroke="#1e1e1e" stroke-width="0.3">240</text>
<text transform="translate(372.60,244.94) rotate(-90)" font-size="9.0" text-anchor="middle" fill="#1e1e1e" stroke="#1e1e1e" stroke-width="0.3">320</text>
<text transform="translate(372.60,221.30) rotate(-90)" font-size="9.0" text-anchor="middle" fill="#1e1e1e" stroke="#1e1e1e" stroke-width="0.3">400</text>
<text transform="translate(360.40,280.70) rotate(-90)" font-size="10.3" text-anchor="middle" fill="#1e1e1e" stroke="#1e1e1e" stroke-width="0.3">Counts</text>
<text x="377.20" y="353.80" font-size="9.0" text-anchor="middle" fill="#1e1e1e" stroke="#1e1e1e" stroke-width="0.3">10<tspan dy="-3.4">0</tspan></text>
<text x="410.60" y="353.80" font-size="9.0" text-anchor="middle" fill="#1e1e1e" stroke="#1e1e1e" stroke-width="0.3">10<tspan dy="-3.4">1</tspan></text>
<text x="444.50" y="353.80" font-size="9.0" text-anchor="middle" fill="#1e1e1e" stroke="#1e1e1e" stroke-width="0.3">10<tspan dy="-3.4">2</tspan></text>
<text x="478.20" y="353.80" font-size="9.0" text-anchor="middle" fill="#1e1e1e" stroke="#1e1e1e" stroke-width="0.3">10<tspan dy="-3.4">3</tspan></text>
<text x="512.60" y="353.80" font-size="9.0" text-anchor="middle" fill="#1e1e1e" stroke="#1e1e1e" stroke-width="0.3">10<tspan dy="-3.4">4</tspan></text>
<text x="443.50" y="364.20" font-size="9.4" text-anchor="middle" fill="#1e1e1e" stroke="#1e1e1e" stroke-width="0.3">FL2-Height</text>
</svg></body></html>
